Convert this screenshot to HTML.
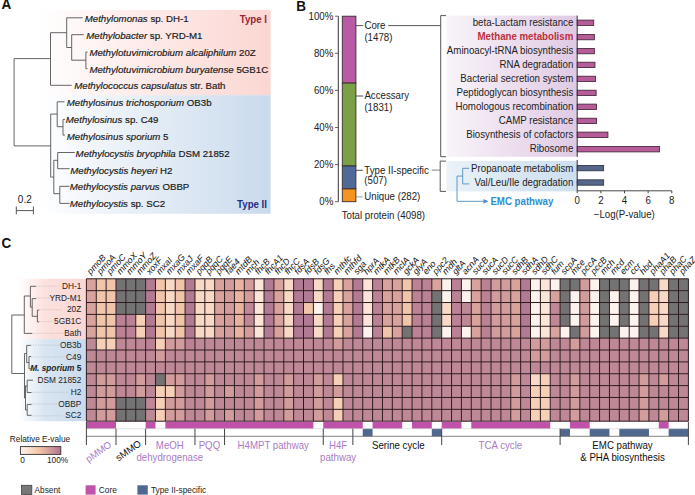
<!DOCTYPE html>
<html><head><meta charset="utf-8"><style>
html,body{margin:0;padding:0;background:#fff;}
svg{display:block;font-family:'Liberation Sans', sans-serif;}
</style></head><body>
<svg width="695" height="495" viewBox="0 0 695 495">
<rect width="695" height="495" fill="#ffffff"/>

<defs>
 <linearGradient id="gPinkA" x1="0" x2="1" y1="0" y2="0">
  <stop offset="0" stop-color="#fbd9d6" stop-opacity="0"/>
  <stop offset="0.42" stop-color="#fbd9d6" stop-opacity="0.5"/>
  <stop offset="1" stop-color="#fbd6d2" stop-opacity="1"/>
 </linearGradient>
 <linearGradient id="gBlueA" x1="0" x2="1" y1="0" y2="0">
  <stop offset="0" stop-color="#cfdeee" stop-opacity="0"/>
  <stop offset="0.42" stop-color="#cfdeee" stop-opacity="0.5"/>
  <stop offset="1" stop-color="#c9daed" stop-opacity="1"/>
 </linearGradient>
 <linearGradient id="gLav" x1="0" x2="1" y1="0" y2="0">
  <stop offset="0" stop-color="#e6d3e8" stop-opacity="0.25"/>
  <stop offset="0.5" stop-color="#e6d3e8" stop-opacity="0.75"/>
  <stop offset="1" stop-color="#dfc9e4" stop-opacity="1"/>
 </linearGradient>
 <linearGradient id="gBlueB" x1="0" x2="1" y1="0" y2="0">
  <stop offset="0" stop-color="#d3e3f0" stop-opacity="0.45"/>
  <stop offset="0.5" stop-color="#d3e3f0" stop-opacity="0.85"/>
  <stop offset="1" stop-color="#cddff0" stop-opacity="1"/>
 </linearGradient>
 <linearGradient id="gPinkC" x1="0" x2="1" y1="0" y2="0">
  <stop offset="0" stop-color="#fbd9d6" stop-opacity="0"/>
  <stop offset="0.4" stop-color="#fbd9d6" stop-opacity="0.8"/>
  <stop offset="1" stop-color="#fbd6d2" stop-opacity="1"/>
 </linearGradient>
 <linearGradient id="gBlueC" x1="0" x2="1" y1="0" y2="0">
  <stop offset="0" stop-color="#cfdeee" stop-opacity="0"/>
  <stop offset="0.4" stop-color="#cfdeee" stop-opacity="0.8"/>
  <stop offset="1" stop-color="#c9daed" stop-opacity="1"/>
 </linearGradient>
 <linearGradient id="gLegend" x1="0" x2="1" y1="0" y2="0">
  <stop offset="0" stop-color="#fdf5f0"/>
  <stop offset="0.45" stop-color="#f3c6a6"/>
  <stop offset="1" stop-color="#b5728f"/>
 </linearGradient>
</defs>

<text transform="translate(1.50,9.46) scale(0.9615,1)" x="0" y="0" font-size="14.04" text-anchor="start" font-weight="bold" font-style="normal" fill="#111" >A</text>
<rect x="40.00" y="10.00" width="230.60" height="85.20" fill="url(#gPinkA)" stroke="none" stroke-width="0" />
<rect x="40.00" y="95.20" width="230.60" height="118.60" fill="url(#gBlueA)" stroke="none" stroke-width="0" />
<line x1="14.10" y1="58.60" x2="14.10" y2="145.90" stroke="#555" stroke-width="0.9" />
<line x1="14.10" y1="58.60" x2="50.50" y2="58.60" stroke="#555" stroke-width="0.9" />
<line x1="50.50" y1="32.70" x2="50.50" y2="85.30" stroke="#555" stroke-width="0.9" />
<line x1="50.50" y1="85.30" x2="71.70" y2="85.30" stroke="#555" stroke-width="0.9" />
<line x1="50.50" y1="32.70" x2="66.70" y2="32.70" stroke="#555" stroke-width="0.9" />
<line x1="66.70" y1="17.80" x2="66.70" y2="47.50" stroke="#555" stroke-width="0.9" />
<line x1="66.70" y1="17.80" x2="82.80" y2="17.80" stroke="#555" stroke-width="0.9" />
<line x1="66.70" y1="47.50" x2="71.70" y2="47.50" stroke="#555" stroke-width="0.9" />
<line x1="71.70" y1="34.70" x2="71.70" y2="60.20" stroke="#555" stroke-width="0.9" />
<line x1="71.70" y1="34.70" x2="83.80" y2="34.70" stroke="#555" stroke-width="0.9" />
<line x1="71.70" y1="60.20" x2="85.90" y2="60.20" stroke="#555" stroke-width="0.9" />
<line x1="85.90" y1="52.10" x2="85.90" y2="68.70" stroke="#555" stroke-width="0.9" />
<line x1="85.90" y1="52.10" x2="87.50" y2="52.10" stroke="#555" stroke-width="0.9" />
<line x1="85.90" y1="68.70" x2="87.50" y2="68.70" stroke="#555" stroke-width="0.9" />
<line x1="14.10" y1="145.90" x2="50.70" y2="145.90" stroke="#555" stroke-width="0.9" />
<line x1="50.70" y1="114.10" x2="50.70" y2="177.10" stroke="#555" stroke-width="0.9" />
<line x1="50.70" y1="114.10" x2="57.20" y2="114.10" stroke="#555" stroke-width="0.9" />
<line x1="57.20" y1="101.80" x2="57.20" y2="126.70" stroke="#555" stroke-width="0.9" />
<line x1="57.20" y1="101.80" x2="64.50" y2="101.80" stroke="#555" stroke-width="0.9" />
<line x1="57.20" y1="126.70" x2="63.00" y2="126.70" stroke="#555" stroke-width="0.9" />
<line x1="63.00" y1="119.40" x2="63.00" y2="135.10" stroke="#555" stroke-width="0.9" />
<line x1="63.00" y1="119.40" x2="65.00" y2="119.40" stroke="#555" stroke-width="0.9" />
<line x1="63.00" y1="135.10" x2="65.00" y2="135.10" stroke="#555" stroke-width="0.9" />
<line x1="50.70" y1="177.10" x2="53.80" y2="177.10" stroke="#555" stroke-width="0.9" />
<line x1="53.80" y1="160.30" x2="53.80" y2="193.70" stroke="#555" stroke-width="0.9" />
<line x1="53.80" y1="160.30" x2="57.70" y2="160.30" stroke="#555" stroke-width="0.9" />
<line x1="57.70" y1="152.50" x2="57.70" y2="168.70" stroke="#555" stroke-width="0.9" />
<line x1="57.70" y1="152.50" x2="74.80" y2="152.50" stroke="#555" stroke-width="0.9" />
<line x1="57.70" y1="168.70" x2="69.60" y2="168.70" stroke="#555" stroke-width="0.9" />
<line x1="53.80" y1="193.70" x2="59.80" y2="193.70" stroke="#555" stroke-width="0.9" />
<line x1="59.80" y1="186.30" x2="59.80" y2="203.40" stroke="#555" stroke-width="0.9" />
<line x1="59.80" y1="186.30" x2="69.60" y2="186.30" stroke="#555" stroke-width="0.9" />
<line x1="59.80" y1="203.40" x2="69.60" y2="203.40" stroke="#555" stroke-width="0.9" />
<text transform="translate(84.70,22.10) scale(1.0000,1)" x="0" y="0" font-size="9.70" text-anchor="start" font-weight="normal" font-style="normal" fill="#1a1a1a" stroke="#1a1a1a" stroke-width="0.18"><tspan font-style="italic">Methylomonas</tspan> sp. DH-1</text>
<text transform="translate(86.30,38.93) scale(1.0000,1)" x="0" y="0" font-size="9.70" text-anchor="start" font-weight="normal" font-style="normal" fill="#1a1a1a" stroke="#1a1a1a" stroke-width="0.18"><tspan font-style="italic">Methylobacter</tspan> sp. YRD-M1</text>
<text transform="translate(89.40,55.76) scale(1.0000,1)" x="0" y="0" font-size="9.70" text-anchor="start" font-weight="normal" font-style="normal" fill="#1a1a1a" stroke="#1a1a1a" stroke-width="0.18"><tspan font-style="italic">Methylotuvimicrobium alcaliphilum</tspan> 20Z</text>
<text transform="translate(89.40,72.59) scale(1.0000,1)" x="0" y="0" font-size="9.70" text-anchor="start" font-weight="normal" font-style="normal" fill="#1a1a1a" stroke="#1a1a1a" stroke-width="0.18"><tspan font-style="italic">Methylotuvimicrobium buryatense</tspan> 5GB1C</text>
<text transform="translate(74.20,89.42) scale(1.0000,1)" x="0" y="0" font-size="9.70" text-anchor="start" font-weight="normal" font-style="normal" fill="#1a1a1a" stroke="#1a1a1a" stroke-width="0.18"><tspan font-style="italic">Methylococcus capsulatus</tspan> str. Bath</text>
<text transform="translate(66.70,106.25) scale(1.0000,1)" x="0" y="0" font-size="9.70" text-anchor="start" font-weight="normal" font-style="normal" fill="#1a1a1a" stroke="#1a1a1a" stroke-width="0.18"><tspan font-style="italic">Methylosinus trichosporium</tspan> OB3b</text>
<text transform="translate(65.80,123.08) scale(1.0000,1)" x="0" y="0" font-size="9.70" text-anchor="start" font-weight="normal" font-style="normal" fill="#1a1a1a" stroke="#1a1a1a" stroke-width="0.18"><tspan font-style="italic">Methylosinus</tspan> sp. C49</text>
<text transform="translate(66.70,139.91) scale(1.0000,1)" x="0" y="0" font-size="9.70" text-anchor="start" font-weight="normal" font-style="normal" fill="#1a1a1a" stroke="#1a1a1a" stroke-width="0.18"><tspan font-style="italic">Methylosinus sporium</tspan> 5</text>
<text transform="translate(75.60,156.74) scale(1.0000,1)" x="0" y="0" font-size="9.70" text-anchor="start" font-weight="normal" font-style="normal" fill="#1a1a1a" stroke="#1a1a1a" stroke-width="0.18"><tspan font-style="italic">Methylocystis bryophila</tspan> DSM 21852</text>
<text transform="translate(70.20,173.57) scale(1.0000,1)" x="0" y="0" font-size="9.70" text-anchor="start" font-weight="normal" font-style="normal" fill="#1a1a1a" stroke="#1a1a1a" stroke-width="0.18"><tspan font-style="italic">Methylocystis heyeri</tspan> H2</text>
<text transform="translate(69.80,190.40) scale(1.0000,1)" x="0" y="0" font-size="9.70" text-anchor="start" font-weight="normal" font-style="normal" fill="#1a1a1a" stroke="#1a1a1a" stroke-width="0.18"><tspan font-style="italic">Methylocystis parvus</tspan> OBBP</text>
<text transform="translate(69.80,207.23) scale(1.0000,1)" x="0" y="0" font-size="9.70" text-anchor="start" font-weight="normal" font-style="normal" fill="#1a1a1a" stroke="#1a1a1a" stroke-width="0.18"><tspan font-style="italic">Methylocystis</tspan> sp. SC2</text>
<text transform="translate(267.00,22.59) scale(0.9615,1)" x="0" y="0" font-size="10.09" text-anchor="end" font-weight="bold" font-style="normal" fill="#9b2333" >Type I</text>
<text transform="translate(267.00,207.59) scale(0.9615,1)" x="0" y="0" font-size="10.09" text-anchor="end" font-weight="bold" font-style="normal" fill="#1f2f86" >Type II</text>
<text transform="translate(24.80,203.00) scale(0.9615,1)" x="0" y="0" font-size="10.40" text-anchor="middle" font-weight="normal" font-style="normal" fill="#222" >0.2</text>
<line x1="16.30" y1="210.60" x2="33.40" y2="210.60" stroke="#444" stroke-width="0.9" />
<line x1="16.30" y1="206.50" x2="16.30" y2="214.30" stroke="#444" stroke-width="0.9" />
<line x1="33.40" y1="206.50" x2="33.40" y2="214.30" stroke="#444" stroke-width="0.9" />
<text transform="translate(296.30,10.96) scale(0.9615,1)" x="0" y="0" font-size="14.04" text-anchor="start" font-weight="bold" font-style="normal" fill="#111" >B</text>
<line x1="338.30" y1="16.20" x2="338.30" y2="201.70" stroke="#333" stroke-width="1" />
<line x1="335.00" y1="201.70" x2="338.30" y2="201.70" stroke="#555" stroke-width="0.9" />
<text transform="translate(333.30,205.09) scale(0.9615,1)" x="0" y="0" font-size="10.09" text-anchor="end" font-weight="normal" font-style="normal" fill="#222" >0%</text>
<line x1="335.00" y1="164.60" x2="338.30" y2="164.60" stroke="#555" stroke-width="0.9" />
<text transform="translate(333.30,167.99) scale(0.9615,1)" x="0" y="0" font-size="10.09" text-anchor="end" font-weight="normal" font-style="normal" fill="#222" >20%</text>
<line x1="335.00" y1="127.50" x2="338.30" y2="127.50" stroke="#555" stroke-width="0.9" />
<text transform="translate(333.30,130.89) scale(0.9615,1)" x="0" y="0" font-size="10.09" text-anchor="end" font-weight="normal" font-style="normal" fill="#222" >40%</text>
<line x1="335.00" y1="90.40" x2="338.30" y2="90.40" stroke="#555" stroke-width="0.9" />
<text transform="translate(333.30,93.79) scale(0.9615,1)" x="0" y="0" font-size="10.09" text-anchor="end" font-weight="normal" font-style="normal" fill="#222" >60%</text>
<line x1="335.00" y1="53.30" x2="338.30" y2="53.30" stroke="#555" stroke-width="0.9" />
<text transform="translate(333.30,56.69) scale(0.9615,1)" x="0" y="0" font-size="10.09" text-anchor="end" font-weight="normal" font-style="normal" fill="#222" >80%</text>
<line x1="335.00" y1="16.20" x2="338.30" y2="16.20" stroke="#555" stroke-width="0.9" />
<text transform="translate(333.30,19.59) scale(0.9615,1)" x="0" y="0" font-size="10.09" text-anchor="end" font-weight="normal" font-style="normal" fill="#222" >100%</text>
<rect x="342.30" y="16.20" width="13.60" height="66.91" fill="#b95aa5" stroke="#3a2a2a" stroke-width="0.9" />
<rect x="342.30" y="83.11" width="13.60" height="82.88" fill="#7ba045" stroke="#3a2a2a" stroke-width="0.9" />
<rect x="342.30" y="165.99" width="13.60" height="22.95" fill="#4f6a98" stroke="#3a2a2a" stroke-width="0.9" />
<rect x="342.30" y="188.94" width="13.60" height="12.76" fill="#f39520" stroke="#3a2a2a" stroke-width="0.9" />
<line x1="355.90" y1="25.60" x2="363.30" y2="25.60" stroke="#444" stroke-width="0.9" />
<text transform="translate(364.40,28.89) scale(0.9615,1)" x="0" y="0" font-size="10.09" text-anchor="start" font-weight="normal" font-style="normal" fill="#222" >Core</text>
<text transform="translate(364.40,41.09) scale(0.9615,1)" x="0" y="0" font-size="10.09" text-anchor="start" font-weight="normal" font-style="normal" fill="#222" >(1478)</text>
<line x1="388.20" y1="25.60" x2="440.70" y2="25.60" stroke="#444" stroke-width="0.9" />
<line x1="355.90" y1="96.00" x2="363.30" y2="96.00" stroke="#444" stroke-width="0.9" />
<text transform="translate(364.40,99.29) scale(0.9615,1)" x="0" y="0" font-size="10.09" text-anchor="start" font-weight="normal" font-style="normal" fill="#222" >Accessary</text>
<text transform="translate(364.40,111.49) scale(0.9615,1)" x="0" y="0" font-size="10.09" text-anchor="start" font-weight="normal" font-style="normal" fill="#222" >(1831)</text>
<line x1="355.90" y1="170.30" x2="362.90" y2="170.30" stroke="#444" stroke-width="0.9" />
<text transform="translate(364.30,173.59) scale(0.9615,1)" x="0" y="0" font-size="10.09" text-anchor="start" font-weight="normal" font-style="normal" fill="#222" >Type II-specific</text>
<text transform="translate(364.30,184.09) scale(0.9615,1)" x="0" y="0" font-size="10.09" text-anchor="start" font-weight="normal" font-style="normal" fill="#222" >(507)</text>
<line x1="431.60" y1="170.10" x2="440.20" y2="170.10" stroke="#777" stroke-width="0.9" />
<line x1="355.90" y1="196.90" x2="362.90" y2="196.90" stroke="#8899aa" stroke-width="0.9" />
<text transform="translate(364.30,200.09) scale(0.9615,1)" x="0" y="0" font-size="10.09" text-anchor="start" font-weight="normal" font-style="normal" fill="#222" >Unique (282)</text>
<text transform="translate(383.40,218.89) scale(0.9615,1)" x="0" y="0" font-size="10.09" text-anchor="middle" font-weight="normal" font-style="normal" fill="#222" >Total protein (4098)</text>
<path d="M446,15.6 H440.7 V156.7 H446" stroke="#444" stroke-width="0.9" fill="none" />
<path d="M446,161.1 H440.2 V191.4 H446" stroke="#444" stroke-width="0.9" fill="none" />
<rect x="446.50" y="15.60" width="130.70" height="141.20" fill="url(#gLav)" stroke="none" stroke-width="0" />
<rect x="446.50" y="161.00" width="130.70" height="30.40" fill="url(#gBlueB)" stroke="none" stroke-width="0" />
<text transform="translate(573.30,25.89) scale(0.9615,1)" x="0" y="0" font-size="10.09" text-anchor="end" font-weight="normal" font-style="normal" fill="#222" >beta-Lactam resistance</text>
<rect x="577.20" y="20.10" width="16.55" height="5.40" fill="#b65c98" stroke="#3a2030" stroke-width="0.8" />
<text transform="translate(573.30,40.19) scale(0.9615,1)" x="0" y="0" font-size="10.09" text-anchor="end" font-weight="bold" font-style="normal" fill="#bb3040" >Methane metabolism</text>
<rect x="577.20" y="34.40" width="17.15" height="5.40" fill="#b65c98" stroke="#3a2030" stroke-width="0.8" />
<text transform="translate(573.30,54.19) scale(0.9615,1)" x="0" y="0" font-size="10.09" text-anchor="end" font-weight="normal" font-style="normal" fill="#222" >Aminoacyl-tRNA biosynthesis</text>
<rect x="577.20" y="48.40" width="17.15" height="5.40" fill="#b65c98" stroke="#3a2030" stroke-width="0.8" />
<text transform="translate(573.30,67.99) scale(0.9615,1)" x="0" y="0" font-size="10.09" text-anchor="end" font-weight="normal" font-style="normal" fill="#222" >RNA degradation</text>
<rect x="577.20" y="62.20" width="17.74" height="5.40" fill="#b65c98" stroke="#3a2030" stroke-width="0.8" />
<text transform="translate(573.30,81.99) scale(0.9615,1)" x="0" y="0" font-size="10.09" text-anchor="end" font-weight="normal" font-style="normal" fill="#222" >Bacterial secretion system</text>
<rect x="577.20" y="76.20" width="18.33" height="5.40" fill="#b65c98" stroke="#3a2030" stroke-width="0.8" />
<text transform="translate(573.30,95.99) scale(0.9615,1)" x="0" y="0" font-size="10.09" text-anchor="end" font-weight="normal" font-style="normal" fill="#222" >Peptidoglycan biosynthesis</text>
<rect x="577.20" y="90.20" width="18.92" height="5.40" fill="#b65c98" stroke="#3a2030" stroke-width="0.8" />
<text transform="translate(573.30,109.89) scale(0.9615,1)" x="0" y="0" font-size="10.09" text-anchor="end" font-weight="normal" font-style="normal" fill="#222" >Homologous recombination</text>
<rect x="577.20" y="104.10" width="19.39" height="5.40" fill="#b65c98" stroke="#3a2030" stroke-width="0.8" />
<text transform="translate(573.30,123.99) scale(0.9615,1)" x="0" y="0" font-size="10.09" text-anchor="end" font-weight="normal" font-style="normal" fill="#222" >CAMP resistance</text>
<rect x="577.20" y="118.20" width="19.39" height="5.40" fill="#b65c98" stroke="#3a2030" stroke-width="0.8" />
<text transform="translate(573.30,137.89) scale(0.9615,1)" x="0" y="0" font-size="10.09" text-anchor="end" font-weight="normal" font-style="normal" fill="#222" >Biosynthesis of cofactors</text>
<rect x="577.20" y="132.10" width="30.74" height="5.40" fill="#b65c98" stroke="#3a2030" stroke-width="0.8" />
<text transform="translate(573.30,152.29) scale(0.9615,1)" x="0" y="0" font-size="10.09" text-anchor="end" font-weight="normal" font-style="normal" fill="#222" >Ribosome</text>
<rect x="577.20" y="146.50" width="82.30" height="5.40" fill="#b65c98" stroke="#3a2030" stroke-width="0.8" />
<text transform="translate(573.30,171.99) scale(0.9615,1)" x="0" y="0" font-size="10.09" text-anchor="end" font-weight="normal" font-style="normal" fill="#222" >Propanoate metabolism</text>
<rect x="577.20" y="165.40" width="26.49" height="5.40" fill="#55668a" stroke="#2a3040" stroke-width="0.8" />
<text transform="translate(573.30,186.39) scale(0.9615,1)" x="0" y="0" font-size="10.09" text-anchor="end" font-weight="normal" font-style="normal" fill="#222" >Val/Leu/Ile degradation</text>
<rect x="577.20" y="179.80" width="26.49" height="5.40" fill="#55668a" stroke="#2a3040" stroke-width="0.8" />
<line x1="577.20" y1="15.60" x2="577.20" y2="156.80" stroke="#333" stroke-width="1" />
<line x1="577.20" y1="160.00" x2="577.20" y2="190.80" stroke="#333" stroke-width="1" />
<line x1="577.20" y1="190.80" x2="671.80" y2="190.80" stroke="#333" stroke-width="0.9" />
<line x1="577.20" y1="190.80" x2="577.20" y2="193.30" stroke="#333" stroke-width="0.9" />
<text transform="translate(577.20,204.09) scale(0.9615,1)" x="0" y="0" font-size="10.09" text-anchor="middle" font-weight="normal" font-style="normal" fill="#222" >0</text>
<line x1="600.85" y1="190.80" x2="600.85" y2="193.30" stroke="#333" stroke-width="0.9" />
<text transform="translate(600.85,204.09) scale(0.9615,1)" x="0" y="0" font-size="10.09" text-anchor="middle" font-weight="normal" font-style="normal" fill="#222" >2</text>
<line x1="624.50" y1="190.80" x2="624.50" y2="193.30" stroke="#333" stroke-width="0.9" />
<text transform="translate(624.50,204.09) scale(0.9615,1)" x="0" y="0" font-size="10.09" text-anchor="middle" font-weight="normal" font-style="normal" fill="#222" >4</text>
<line x1="648.15" y1="190.80" x2="648.15" y2="193.30" stroke="#333" stroke-width="0.9" />
<text transform="translate(648.15,204.09) scale(0.9615,1)" x="0" y="0" font-size="10.09" text-anchor="middle" font-weight="normal" font-style="normal" fill="#222" >6</text>
<line x1="671.80" y1="190.80" x2="671.80" y2="193.30" stroke="#333" stroke-width="0.9" />
<text transform="translate(671.80,204.09) scale(0.9615,1)" x="0" y="0" font-size="10.09" text-anchor="middle" font-weight="normal" font-style="normal" fill="#222" >8</text>
<text transform="translate(624.30,218.49) scale(0.9615,1)" x="0" y="0" font-size="10.09" text-anchor="middle" font-weight="normal" font-style="normal" fill="#222" >&#8722;Log(P-value)</text>
<line x1="462.70" y1="168.30" x2="462.70" y2="183.90" stroke="#4f8fc0" stroke-width="0.9" />
<line x1="462.70" y1="168.30" x2="469.20" y2="168.30" stroke="#4f8fc0" stroke-width="0.9" />
<line x1="462.70" y1="183.90" x2="469.20" y2="183.90" stroke="#4f8fc0" stroke-width="0.9" />
<line x1="457.00" y1="176.10" x2="462.70" y2="176.10" stroke="#4f8fc0" stroke-width="0.9" />
<line x1="457.00" y1="176.10" x2="457.00" y2="201.30" stroke="#4f8fc0" stroke-width="0.9" />
<line x1="457.00" y1="201.30" x2="485.00" y2="201.30" stroke="#4f8fc0" stroke-width="0.9" />
<path d="M488.5,201.3 L483.5,198.9 L483.5,203.7 Z" stroke="none" stroke-width="1.0" fill="#4f8fc0" />
<text transform="translate(490.40,205.29) scale(0.9615,1)" x="0" y="0" font-size="10.09" text-anchor="start" font-weight="bold" font-style="normal" fill="#2f8fcf" >EMC pathway</text>
<text transform="translate(1.50,247.66) scale(0.9615,1)" x="0" y="0" font-size="14.04" text-anchor="start" font-weight="bold" font-style="normal" fill="#111" >C</text>
<rect x="18.00" y="278.80" width="68.40" height="60.30" fill="url(#gPinkC)" stroke="none" stroke-width="0" />
<rect x="18.00" y="339.10" width="68.40" height="82.10" fill="url(#gBlueC)" stroke="none" stroke-width="0" />
<rect x="86.40" y="278.80" width="9.87" height="11.87" fill="#d9a39d" stroke="none" stroke-width="0" />
<rect x="96.27" y="278.80" width="9.87" height="11.87" fill="#f0c5aa" stroke="none" stroke-width="0" />
<rect x="106.14" y="278.80" width="9.87" height="11.87" fill="#f0c5aa" stroke="none" stroke-width="0" />
<rect x="116.01" y="278.80" width="9.87" height="11.87" fill="#737373" stroke="none" stroke-width="0" />
<rect x="125.88" y="278.80" width="9.87" height="11.87" fill="#737373" stroke="none" stroke-width="0" />
<rect x="135.74" y="278.80" width="9.87" height="11.87" fill="#737373" stroke="none" stroke-width="0" />
<rect x="145.61" y="278.80" width="9.87" height="11.87" fill="#b27b94" stroke="none" stroke-width="0" />
<rect x="155.48" y="278.80" width="9.87" height="11.87" fill="#f0c5aa" stroke="none" stroke-width="0" />
<rect x="165.35" y="278.80" width="9.87" height="11.87" fill="#f7d9c6" stroke="none" stroke-width="0" />
<rect x="175.22" y="278.80" width="9.87" height="11.87" fill="#f0c5aa" stroke="none" stroke-width="0" />
<rect x="185.09" y="278.80" width="9.87" height="11.87" fill="#b27b94" stroke="none" stroke-width="0" />
<rect x="194.96" y="278.80" width="9.87" height="11.87" fill="#f7d9c6" stroke="none" stroke-width="0" />
<rect x="204.83" y="278.80" width="9.87" height="11.87" fill="#f7d9c6" stroke="none" stroke-width="0" />
<rect x="214.70" y="278.80" width="9.87" height="11.87" fill="#d9a39d" stroke="none" stroke-width="0" />
<rect x="224.56" y="278.80" width="9.87" height="11.87" fill="#d29c9c" stroke="none" stroke-width="0" />
<rect x="234.43" y="278.80" width="9.87" height="11.87" fill="#e8b49e" stroke="none" stroke-width="0" />
<rect x="244.30" y="278.80" width="9.87" height="11.87" fill="#d29c9c" stroke="none" stroke-width="0" />
<rect x="254.17" y="278.80" width="9.87" height="11.87" fill="#fbe5d8" stroke="none" stroke-width="0" />
<rect x="264.04" y="278.80" width="9.87" height="11.87" fill="#b27b94" stroke="none" stroke-width="0" />
<rect x="273.91" y="278.80" width="9.87" height="11.87" fill="#d9a39d" stroke="none" stroke-width="0" />
<rect x="283.78" y="278.80" width="9.87" height="11.87" fill="#f7d9c6" stroke="none" stroke-width="0" />
<rect x="293.65" y="278.80" width="9.87" height="11.87" fill="#b27b94" stroke="none" stroke-width="0" />
<rect x="303.51" y="278.80" width="9.87" height="11.87" fill="#b27b94" stroke="none" stroke-width="0" />
<rect x="313.38" y="278.80" width="9.87" height="11.87" fill="#f7d9c6" stroke="none" stroke-width="0" />
<rect x="323.25" y="278.80" width="9.87" height="11.87" fill="#b27b94" stroke="none" stroke-width="0" />
<rect x="333.12" y="278.80" width="9.87" height="11.87" fill="#f5d0b6" stroke="none" stroke-width="0" />
<rect x="342.99" y="278.80" width="9.87" height="11.87" fill="#d9a39d" stroke="none" stroke-width="0" />
<rect x="352.86" y="278.80" width="9.87" height="11.87" fill="#b27b94" stroke="none" stroke-width="0" />
<rect x="362.73" y="278.80" width="9.87" height="11.87" fill="#fbe5d8" stroke="none" stroke-width="0" />
<rect x="372.60" y="278.80" width="9.87" height="11.87" fill="#bb8296" stroke="none" stroke-width="0" />
<rect x="382.47" y="278.80" width="9.87" height="11.87" fill="#d9a39d" stroke="none" stroke-width="0" />
<rect x="392.33" y="278.80" width="9.87" height="11.87" fill="#d9a39d" stroke="none" stroke-width="0" />
<rect x="402.20" y="278.80" width="9.87" height="11.87" fill="#f0c5aa" stroke="none" stroke-width="0" />
<rect x="412.07" y="278.80" width="9.87" height="11.87" fill="#bb8296" stroke="none" stroke-width="0" />
<rect x="421.94" y="278.80" width="9.87" height="11.87" fill="#bb8296" stroke="none" stroke-width="0" />
<rect x="431.81" y="278.80" width="9.87" height="11.87" fill="#d9a39d" stroke="none" stroke-width="0" />
<rect x="441.68" y="278.80" width="9.87" height="11.87" fill="#fdf3ee" stroke="none" stroke-width="0" />
<rect x="451.55" y="278.80" width="9.87" height="11.87" fill="#bb8296" stroke="none" stroke-width="0" />
<rect x="461.42" y="278.80" width="9.87" height="11.87" fill="#fdf3ee" stroke="none" stroke-width="0" />
<rect x="471.29" y="278.80" width="9.87" height="11.87" fill="#d9a39d" stroke="none" stroke-width="0" />
<rect x="481.15" y="278.80" width="9.87" height="11.87" fill="#bb8296" stroke="none" stroke-width="0" />
<rect x="491.02" y="278.80" width="9.87" height="11.87" fill="#d29c9c" stroke="none" stroke-width="0" />
<rect x="500.89" y="278.80" width="9.87" height="11.87" fill="#d29c9c" stroke="none" stroke-width="0" />
<rect x="510.76" y="278.80" width="9.87" height="11.87" fill="#d9a39d" stroke="none" stroke-width="0" />
<rect x="520.63" y="278.80" width="9.87" height="11.87" fill="#b27b94" stroke="none" stroke-width="0" />
<rect x="530.50" y="278.80" width="9.87" height="11.87" fill="#fdf3ee" stroke="none" stroke-width="0" />
<rect x="540.37" y="278.80" width="9.87" height="11.87" fill="#fbe5d8" stroke="none" stroke-width="0" />
<rect x="550.24" y="278.80" width="9.87" height="11.87" fill="#fdf3ee" stroke="none" stroke-width="0" />
<rect x="560.10" y="278.80" width="9.87" height="11.87" fill="#737373" stroke="none" stroke-width="0" />
<rect x="569.97" y="278.80" width="9.87" height="11.87" fill="#737373" stroke="none" stroke-width="0" />
<rect x="579.84" y="278.80" width="9.87" height="11.87" fill="#d29c9c" stroke="none" stroke-width="0" />
<rect x="589.71" y="278.80" width="9.87" height="11.87" fill="#fdf3ee" stroke="none" stroke-width="0" />
<rect x="599.58" y="278.80" width="9.87" height="11.87" fill="#737373" stroke="none" stroke-width="0" />
<rect x="609.45" y="278.80" width="9.87" height="11.87" fill="#737373" stroke="none" stroke-width="0" />
<rect x="619.32" y="278.80" width="9.87" height="11.87" fill="#737373" stroke="none" stroke-width="0" />
<rect x="629.19" y="278.80" width="9.87" height="11.87" fill="#fdf3ee" stroke="none" stroke-width="0" />
<rect x="639.06" y="278.80" width="9.87" height="11.87" fill="#737373" stroke="none" stroke-width="0" />
<rect x="648.92" y="278.80" width="9.87" height="11.87" fill="#737373" stroke="none" stroke-width="0" />
<rect x="658.79" y="278.80" width="9.87" height="11.87" fill="#f7d9c6" stroke="none" stroke-width="0" />
<rect x="668.66" y="278.80" width="9.87" height="11.87" fill="#737373" stroke="none" stroke-width="0" />
<rect x="678.53" y="278.80" width="9.87" height="11.87" fill="#737373" stroke="none" stroke-width="0" />
<rect x="86.40" y="290.67" width="9.87" height="11.87" fill="#d9a39d" stroke="none" stroke-width="0" />
<rect x="96.27" y="290.67" width="9.87" height="11.87" fill="#f0c5aa" stroke="none" stroke-width="0" />
<rect x="106.14" y="290.67" width="9.87" height="11.87" fill="#f0c5aa" stroke="none" stroke-width="0" />
<rect x="116.01" y="290.67" width="9.87" height="11.87" fill="#737373" stroke="none" stroke-width="0" />
<rect x="125.88" y="290.67" width="9.87" height="11.87" fill="#737373" stroke="none" stroke-width="0" />
<rect x="135.74" y="290.67" width="9.87" height="11.87" fill="#737373" stroke="none" stroke-width="0" />
<rect x="145.61" y="290.67" width="9.87" height="11.87" fill="#b27b94" stroke="none" stroke-width="0" />
<rect x="155.48" y="290.67" width="9.87" height="11.87" fill="#f0c5aa" stroke="none" stroke-width="0" />
<rect x="165.35" y="290.67" width="9.87" height="11.87" fill="#f7d9c6" stroke="none" stroke-width="0" />
<rect x="175.22" y="290.67" width="9.87" height="11.87" fill="#f0c5aa" stroke="none" stroke-width="0" />
<rect x="185.09" y="290.67" width="9.87" height="11.87" fill="#b27b94" stroke="none" stroke-width="0" />
<rect x="194.96" y="290.67" width="9.87" height="11.87" fill="#f7d9c6" stroke="none" stroke-width="0" />
<rect x="204.83" y="290.67" width="9.87" height="11.87" fill="#f7d9c6" stroke="none" stroke-width="0" />
<rect x="214.70" y="290.67" width="9.87" height="11.87" fill="#d9a39d" stroke="none" stroke-width="0" />
<rect x="224.56" y="290.67" width="9.87" height="11.87" fill="#d29c9c" stroke="none" stroke-width="0" />
<rect x="234.43" y="290.67" width="9.87" height="11.87" fill="#e8b49e" stroke="none" stroke-width="0" />
<rect x="244.30" y="290.67" width="9.87" height="11.87" fill="#d29c9c" stroke="none" stroke-width="0" />
<rect x="254.17" y="290.67" width="9.87" height="11.87" fill="#fbe5d8" stroke="none" stroke-width="0" />
<rect x="264.04" y="290.67" width="9.87" height="11.87" fill="#b27b94" stroke="none" stroke-width="0" />
<rect x="273.91" y="290.67" width="9.87" height="11.87" fill="#d9a39d" stroke="none" stroke-width="0" />
<rect x="283.78" y="290.67" width="9.87" height="11.87" fill="#f7d9c6" stroke="none" stroke-width="0" />
<rect x="293.65" y="290.67" width="9.87" height="11.87" fill="#b27b94" stroke="none" stroke-width="0" />
<rect x="303.51" y="290.67" width="9.87" height="11.87" fill="#b27b94" stroke="none" stroke-width="0" />
<rect x="313.38" y="290.67" width="9.87" height="11.87" fill="#f7d9c6" stroke="none" stroke-width="0" />
<rect x="323.25" y="290.67" width="9.87" height="11.87" fill="#b27b94" stroke="none" stroke-width="0" />
<rect x="333.12" y="290.67" width="9.87" height="11.87" fill="#f5d0b6" stroke="none" stroke-width="0" />
<rect x="342.99" y="290.67" width="9.87" height="11.87" fill="#d9a39d" stroke="none" stroke-width="0" />
<rect x="352.86" y="290.67" width="9.87" height="11.87" fill="#b27b94" stroke="none" stroke-width="0" />
<rect x="362.73" y="290.67" width="9.87" height="11.87" fill="#fbe5d8" stroke="none" stroke-width="0" />
<rect x="372.60" y="290.67" width="9.87" height="11.87" fill="#bb8296" stroke="none" stroke-width="0" />
<rect x="382.47" y="290.67" width="9.87" height="11.87" fill="#d9a39d" stroke="none" stroke-width="0" />
<rect x="392.33" y="290.67" width="9.87" height="11.87" fill="#d9a39d" stroke="none" stroke-width="0" />
<rect x="402.20" y="290.67" width="9.87" height="11.87" fill="#f0c5aa" stroke="none" stroke-width="0" />
<rect x="412.07" y="290.67" width="9.87" height="11.87" fill="#bb8296" stroke="none" stroke-width="0" />
<rect x="421.94" y="290.67" width="9.87" height="11.87" fill="#bb8296" stroke="none" stroke-width="0" />
<rect x="431.81" y="290.67" width="9.87" height="11.87" fill="#737373" stroke="none" stroke-width="0" />
<rect x="441.68" y="290.67" width="9.87" height="11.87" fill="#fdf3ee" stroke="none" stroke-width="0" />
<rect x="451.55" y="290.67" width="9.87" height="11.87" fill="#bb8296" stroke="none" stroke-width="0" />
<rect x="461.42" y="290.67" width="9.87" height="11.87" fill="#fdf3ee" stroke="none" stroke-width="0" />
<rect x="471.29" y="290.67" width="9.87" height="11.87" fill="#d9a39d" stroke="none" stroke-width="0" />
<rect x="481.15" y="290.67" width="9.87" height="11.87" fill="#bb8296" stroke="none" stroke-width="0" />
<rect x="491.02" y="290.67" width="9.87" height="11.87" fill="#d29c9c" stroke="none" stroke-width="0" />
<rect x="500.89" y="290.67" width="9.87" height="11.87" fill="#d29c9c" stroke="none" stroke-width="0" />
<rect x="510.76" y="290.67" width="9.87" height="11.87" fill="#d9a39d" stroke="none" stroke-width="0" />
<rect x="520.63" y="290.67" width="9.87" height="11.87" fill="#b27b94" stroke="none" stroke-width="0" />
<rect x="530.50" y="290.67" width="9.87" height="11.87" fill="#fdf3ee" stroke="none" stroke-width="0" />
<rect x="540.37" y="290.67" width="9.87" height="11.87" fill="#fbe5d8" stroke="none" stroke-width="0" />
<rect x="550.24" y="290.67" width="9.87" height="11.87" fill="#d9a39d" stroke="none" stroke-width="0" />
<rect x="560.10" y="290.67" width="9.87" height="11.87" fill="#737373" stroke="none" stroke-width="0" />
<rect x="569.97" y="290.67" width="9.87" height="11.87" fill="#fdf3ee" stroke="none" stroke-width="0" />
<rect x="579.84" y="290.67" width="9.87" height="11.87" fill="#d29c9c" stroke="none" stroke-width="0" />
<rect x="589.71" y="290.67" width="9.87" height="11.87" fill="#fdf3ee" stroke="none" stroke-width="0" />
<rect x="599.58" y="290.67" width="9.87" height="11.87" fill="#737373" stroke="none" stroke-width="0" />
<rect x="609.45" y="290.67" width="9.87" height="11.87" fill="#fdf3ee" stroke="none" stroke-width="0" />
<rect x="619.32" y="290.67" width="9.87" height="11.87" fill="#737373" stroke="none" stroke-width="0" />
<rect x="629.19" y="290.67" width="9.87" height="11.87" fill="#fdf3ee" stroke="none" stroke-width="0" />
<rect x="639.06" y="290.67" width="9.87" height="11.87" fill="#737373" stroke="none" stroke-width="0" />
<rect x="648.92" y="290.67" width="9.87" height="11.87" fill="#f5d0b6" stroke="none" stroke-width="0" />
<rect x="658.79" y="290.67" width="9.87" height="11.87" fill="#f7d9c6" stroke="none" stroke-width="0" />
<rect x="668.66" y="290.67" width="9.87" height="11.87" fill="#737373" stroke="none" stroke-width="0" />
<rect x="678.53" y="290.67" width="9.87" height="11.87" fill="#737373" stroke="none" stroke-width="0" />
<rect x="86.40" y="302.53" width="9.87" height="11.87" fill="#d9a39d" stroke="none" stroke-width="0" />
<rect x="96.27" y="302.53" width="9.87" height="11.87" fill="#f0c5aa" stroke="none" stroke-width="0" />
<rect x="106.14" y="302.53" width="9.87" height="11.87" fill="#f0c5aa" stroke="none" stroke-width="0" />
<rect x="116.01" y="302.53" width="9.87" height="11.87" fill="#737373" stroke="none" stroke-width="0" />
<rect x="125.88" y="302.53" width="9.87" height="11.87" fill="#737373" stroke="none" stroke-width="0" />
<rect x="135.74" y="302.53" width="9.87" height="11.87" fill="#737373" stroke="none" stroke-width="0" />
<rect x="145.61" y="302.53" width="9.87" height="11.87" fill="#b27b94" stroke="none" stroke-width="0" />
<rect x="155.48" y="302.53" width="9.87" height="11.87" fill="#f0c5aa" stroke="none" stroke-width="0" />
<rect x="165.35" y="302.53" width="9.87" height="11.87" fill="#f7d9c6" stroke="none" stroke-width="0" />
<rect x="175.22" y="302.53" width="9.87" height="11.87" fill="#f0c5aa" stroke="none" stroke-width="0" />
<rect x="185.09" y="302.53" width="9.87" height="11.87" fill="#b27b94" stroke="none" stroke-width="0" />
<rect x="194.96" y="302.53" width="9.87" height="11.87" fill="#f7d9c6" stroke="none" stroke-width="0" />
<rect x="204.83" y="302.53" width="9.87" height="11.87" fill="#f7d9c6" stroke="none" stroke-width="0" />
<rect x="214.70" y="302.53" width="9.87" height="11.87" fill="#d9a39d" stroke="none" stroke-width="0" />
<rect x="224.56" y="302.53" width="9.87" height="11.87" fill="#d29c9c" stroke="none" stroke-width="0" />
<rect x="234.43" y="302.53" width="9.87" height="11.87" fill="#e8b49e" stroke="none" stroke-width="0" />
<rect x="244.30" y="302.53" width="9.87" height="11.87" fill="#be8897" stroke="none" stroke-width="0" />
<rect x="254.17" y="302.53" width="9.87" height="11.87" fill="#fbe5d8" stroke="none" stroke-width="0" />
<rect x="264.04" y="302.53" width="9.87" height="11.87" fill="#b27b94" stroke="none" stroke-width="0" />
<rect x="273.91" y="302.53" width="9.87" height="11.87" fill="#d9a39d" stroke="none" stroke-width="0" />
<rect x="283.78" y="302.53" width="9.87" height="11.87" fill="#f7d9c6" stroke="none" stroke-width="0" />
<rect x="293.65" y="302.53" width="9.87" height="11.87" fill="#b27b94" stroke="none" stroke-width="0" />
<rect x="303.51" y="302.53" width="9.87" height="11.87" fill="#f0c5aa" stroke="none" stroke-width="0" />
<rect x="313.38" y="302.53" width="9.87" height="11.87" fill="#fdf3ee" stroke="none" stroke-width="0" />
<rect x="323.25" y="302.53" width="9.87" height="11.87" fill="#b27b94" stroke="none" stroke-width="0" />
<rect x="333.12" y="302.53" width="9.87" height="11.87" fill="#f5d0b6" stroke="none" stroke-width="0" />
<rect x="342.99" y="302.53" width="9.87" height="11.87" fill="#d9a39d" stroke="none" stroke-width="0" />
<rect x="352.86" y="302.53" width="9.87" height="11.87" fill="#b27b94" stroke="none" stroke-width="0" />
<rect x="362.73" y="302.53" width="9.87" height="11.87" fill="#fbe5d8" stroke="none" stroke-width="0" />
<rect x="372.60" y="302.53" width="9.87" height="11.87" fill="#bb8296" stroke="none" stroke-width="0" />
<rect x="382.47" y="302.53" width="9.87" height="11.87" fill="#d9a39d" stroke="none" stroke-width="0" />
<rect x="392.33" y="302.53" width="9.87" height="11.87" fill="#d9a39d" stroke="none" stroke-width="0" />
<rect x="402.20" y="302.53" width="9.87" height="11.87" fill="#f0c5aa" stroke="none" stroke-width="0" />
<rect x="412.07" y="302.53" width="9.87" height="11.87" fill="#bb8296" stroke="none" stroke-width="0" />
<rect x="421.94" y="302.53" width="9.87" height="11.87" fill="#bb8296" stroke="none" stroke-width="0" />
<rect x="431.81" y="302.53" width="9.87" height="11.87" fill="#737373" stroke="none" stroke-width="0" />
<rect x="441.68" y="302.53" width="9.87" height="11.87" fill="#f7d9c6" stroke="none" stroke-width="0" />
<rect x="451.55" y="302.53" width="9.87" height="11.87" fill="#bb8296" stroke="none" stroke-width="0" />
<rect x="461.42" y="302.53" width="9.87" height="11.87" fill="#be8897" stroke="none" stroke-width="0" />
<rect x="471.29" y="302.53" width="9.87" height="11.87" fill="#d9a39d" stroke="none" stroke-width="0" />
<rect x="481.15" y="302.53" width="9.87" height="11.87" fill="#bb8296" stroke="none" stroke-width="0" />
<rect x="491.02" y="302.53" width="9.87" height="11.87" fill="#d29c9c" stroke="none" stroke-width="0" />
<rect x="500.89" y="302.53" width="9.87" height="11.87" fill="#d29c9c" stroke="none" stroke-width="0" />
<rect x="510.76" y="302.53" width="9.87" height="11.87" fill="#d9a39d" stroke="none" stroke-width="0" />
<rect x="520.63" y="302.53" width="9.87" height="11.87" fill="#b27b94" stroke="none" stroke-width="0" />
<rect x="530.50" y="302.53" width="9.87" height="11.87" fill="#fdf3ee" stroke="none" stroke-width="0" />
<rect x="540.37" y="302.53" width="9.87" height="11.87" fill="#fbe5d8" stroke="none" stroke-width="0" />
<rect x="550.24" y="302.53" width="9.87" height="11.87" fill="#be8897" stroke="none" stroke-width="0" />
<rect x="560.10" y="302.53" width="9.87" height="11.87" fill="#737373" stroke="none" stroke-width="0" />
<rect x="569.97" y="302.53" width="9.87" height="11.87" fill="#fdf3ee" stroke="none" stroke-width="0" />
<rect x="579.84" y="302.53" width="9.87" height="11.87" fill="#d29c9c" stroke="none" stroke-width="0" />
<rect x="589.71" y="302.53" width="9.87" height="11.87" fill="#fdf3ee" stroke="none" stroke-width="0" />
<rect x="599.58" y="302.53" width="9.87" height="11.87" fill="#737373" stroke="none" stroke-width="0" />
<rect x="609.45" y="302.53" width="9.87" height="11.87" fill="#fdf3ee" stroke="none" stroke-width="0" />
<rect x="619.32" y="302.53" width="9.87" height="11.87" fill="#737373" stroke="none" stroke-width="0" />
<rect x="629.19" y="302.53" width="9.87" height="11.87" fill="#fdf3ee" stroke="none" stroke-width="0" />
<rect x="639.06" y="302.53" width="9.87" height="11.87" fill="#737373" stroke="none" stroke-width="0" />
<rect x="648.92" y="302.53" width="9.87" height="11.87" fill="#f5d0b6" stroke="none" stroke-width="0" />
<rect x="658.79" y="302.53" width="9.87" height="11.87" fill="#f7d9c6" stroke="none" stroke-width="0" />
<rect x="668.66" y="302.53" width="9.87" height="11.87" fill="#737373" stroke="none" stroke-width="0" />
<rect x="678.53" y="302.53" width="9.87" height="11.87" fill="#737373" stroke="none" stroke-width="0" />
<rect x="86.40" y="314.40" width="9.87" height="11.87" fill="#d9a39d" stroke="none" stroke-width="0" />
<rect x="96.27" y="314.40" width="9.87" height="11.87" fill="#f0c5aa" stroke="none" stroke-width="0" />
<rect x="106.14" y="314.40" width="9.87" height="11.87" fill="#f0c5aa" stroke="none" stroke-width="0" />
<rect x="116.01" y="314.40" width="9.87" height="11.87" fill="#bb8296" stroke="none" stroke-width="0" />
<rect x="125.88" y="314.40" width="9.87" height="11.87" fill="#bb8296" stroke="none" stroke-width="0" />
<rect x="135.74" y="314.40" width="9.87" height="11.87" fill="#f5d0b6" stroke="none" stroke-width="0" />
<rect x="145.61" y="314.40" width="9.87" height="11.87" fill="#b27b94" stroke="none" stroke-width="0" />
<rect x="155.48" y="314.40" width="9.87" height="11.87" fill="#f0c5aa" stroke="none" stroke-width="0" />
<rect x="165.35" y="314.40" width="9.87" height="11.87" fill="#f7d9c6" stroke="none" stroke-width="0" />
<rect x="175.22" y="314.40" width="9.87" height="11.87" fill="#f0c5aa" stroke="none" stroke-width="0" />
<rect x="185.09" y="314.40" width="9.87" height="11.87" fill="#b27b94" stroke="none" stroke-width="0" />
<rect x="194.96" y="314.40" width="9.87" height="11.87" fill="#f7d9c6" stroke="none" stroke-width="0" />
<rect x="204.83" y="314.40" width="9.87" height="11.87" fill="#f7d9c6" stroke="none" stroke-width="0" />
<rect x="214.70" y="314.40" width="9.87" height="11.87" fill="#d9a39d" stroke="none" stroke-width="0" />
<rect x="224.56" y="314.40" width="9.87" height="11.87" fill="#d29c9c" stroke="none" stroke-width="0" />
<rect x="234.43" y="314.40" width="9.87" height="11.87" fill="#e8b49e" stroke="none" stroke-width="0" />
<rect x="244.30" y="314.40" width="9.87" height="11.87" fill="#be8897" stroke="none" stroke-width="0" />
<rect x="254.17" y="314.40" width="9.87" height="11.87" fill="#fbe5d8" stroke="none" stroke-width="0" />
<rect x="264.04" y="314.40" width="9.87" height="11.87" fill="#b27b94" stroke="none" stroke-width="0" />
<rect x="273.91" y="314.40" width="9.87" height="11.87" fill="#d9a39d" stroke="none" stroke-width="0" />
<rect x="283.78" y="314.40" width="9.87" height="11.87" fill="#f7d9c6" stroke="none" stroke-width="0" />
<rect x="293.65" y="314.40" width="9.87" height="11.87" fill="#b27b94" stroke="none" stroke-width="0" />
<rect x="303.51" y="314.40" width="9.87" height="11.87" fill="#b27b94" stroke="none" stroke-width="0" />
<rect x="313.38" y="314.40" width="9.87" height="11.87" fill="#f7d9c6" stroke="none" stroke-width="0" />
<rect x="323.25" y="314.40" width="9.87" height="11.87" fill="#b27b94" stroke="none" stroke-width="0" />
<rect x="333.12" y="314.40" width="9.87" height="11.87" fill="#f5d0b6" stroke="none" stroke-width="0" />
<rect x="342.99" y="314.40" width="9.87" height="11.87" fill="#d9a39d" stroke="none" stroke-width="0" />
<rect x="352.86" y="314.40" width="9.87" height="11.87" fill="#b27b94" stroke="none" stroke-width="0" />
<rect x="362.73" y="314.40" width="9.87" height="11.87" fill="#fbe5d8" stroke="none" stroke-width="0" />
<rect x="372.60" y="314.40" width="9.87" height="11.87" fill="#bb8296" stroke="none" stroke-width="0" />
<rect x="382.47" y="314.40" width="9.87" height="11.87" fill="#d9a39d" stroke="none" stroke-width="0" />
<rect x="392.33" y="314.40" width="9.87" height="11.87" fill="#d9a39d" stroke="none" stroke-width="0" />
<rect x="402.20" y="314.40" width="9.87" height="11.87" fill="#f0c5aa" stroke="none" stroke-width="0" />
<rect x="412.07" y="314.40" width="9.87" height="11.87" fill="#bb8296" stroke="none" stroke-width="0" />
<rect x="421.94" y="314.40" width="9.87" height="11.87" fill="#bb8296" stroke="none" stroke-width="0" />
<rect x="431.81" y="314.40" width="9.87" height="11.87" fill="#737373" stroke="none" stroke-width="0" />
<rect x="441.68" y="314.40" width="9.87" height="11.87" fill="#f7d9c6" stroke="none" stroke-width="0" />
<rect x="451.55" y="314.40" width="9.87" height="11.87" fill="#bb8296" stroke="none" stroke-width="0" />
<rect x="461.42" y="314.40" width="9.87" height="11.87" fill="#be8897" stroke="none" stroke-width="0" />
<rect x="471.29" y="314.40" width="9.87" height="11.87" fill="#d9a39d" stroke="none" stroke-width="0" />
<rect x="481.15" y="314.40" width="9.87" height="11.87" fill="#bb8296" stroke="none" stroke-width="0" />
<rect x="491.02" y="314.40" width="9.87" height="11.87" fill="#d29c9c" stroke="none" stroke-width="0" />
<rect x="500.89" y="314.40" width="9.87" height="11.87" fill="#d29c9c" stroke="none" stroke-width="0" />
<rect x="510.76" y="314.40" width="9.87" height="11.87" fill="#d9a39d" stroke="none" stroke-width="0" />
<rect x="520.63" y="314.40" width="9.87" height="11.87" fill="#b27b94" stroke="none" stroke-width="0" />
<rect x="530.50" y="314.40" width="9.87" height="11.87" fill="#fdf3ee" stroke="none" stroke-width="0" />
<rect x="540.37" y="314.40" width="9.87" height="11.87" fill="#fbe5d8" stroke="none" stroke-width="0" />
<rect x="550.24" y="314.40" width="9.87" height="11.87" fill="#be8897" stroke="none" stroke-width="0" />
<rect x="560.10" y="314.40" width="9.87" height="11.87" fill="#737373" stroke="none" stroke-width="0" />
<rect x="569.97" y="314.40" width="9.87" height="11.87" fill="#fdf3ee" stroke="none" stroke-width="0" />
<rect x="579.84" y="314.40" width="9.87" height="11.87" fill="#d29c9c" stroke="none" stroke-width="0" />
<rect x="589.71" y="314.40" width="9.87" height="11.87" fill="#fdf3ee" stroke="none" stroke-width="0" />
<rect x="599.58" y="314.40" width="9.87" height="11.87" fill="#737373" stroke="none" stroke-width="0" />
<rect x="609.45" y="314.40" width="9.87" height="11.87" fill="#fdf3ee" stroke="none" stroke-width="0" />
<rect x="619.32" y="314.40" width="9.87" height="11.87" fill="#737373" stroke="none" stroke-width="0" />
<rect x="629.19" y="314.40" width="9.87" height="11.87" fill="#fdf3ee" stroke="none" stroke-width="0" />
<rect x="639.06" y="314.40" width="9.87" height="11.87" fill="#737373" stroke="none" stroke-width="0" />
<rect x="648.92" y="314.40" width="9.87" height="11.87" fill="#f5d0b6" stroke="none" stroke-width="0" />
<rect x="658.79" y="314.40" width="9.87" height="11.87" fill="#f7d9c6" stroke="none" stroke-width="0" />
<rect x="668.66" y="314.40" width="9.87" height="11.87" fill="#737373" stroke="none" stroke-width="0" />
<rect x="678.53" y="314.40" width="9.87" height="11.87" fill="#737373" stroke="none" stroke-width="0" />
<rect x="86.40" y="326.27" width="9.87" height="11.87" fill="#d9a39d" stroke="none" stroke-width="0" />
<rect x="96.27" y="326.27" width="9.87" height="11.87" fill="#f0c5aa" stroke="none" stroke-width="0" />
<rect x="106.14" y="326.27" width="9.87" height="11.87" fill="#f0c5aa" stroke="none" stroke-width="0" />
<rect x="116.01" y="326.27" width="9.87" height="11.87" fill="#bb8296" stroke="none" stroke-width="0" />
<rect x="125.88" y="326.27" width="9.87" height="11.87" fill="#bb8296" stroke="none" stroke-width="0" />
<rect x="135.74" y="326.27" width="9.87" height="11.87" fill="#f5d0b6" stroke="none" stroke-width="0" />
<rect x="145.61" y="326.27" width="9.87" height="11.87" fill="#b27b94" stroke="none" stroke-width="0" />
<rect x="155.48" y="326.27" width="9.87" height="11.87" fill="#f0c5aa" stroke="none" stroke-width="0" />
<rect x="165.35" y="326.27" width="9.87" height="11.87" fill="#f7d9c6" stroke="none" stroke-width="0" />
<rect x="175.22" y="326.27" width="9.87" height="11.87" fill="#f0c5aa" stroke="none" stroke-width="0" />
<rect x="185.09" y="326.27" width="9.87" height="11.87" fill="#b27b94" stroke="none" stroke-width="0" />
<rect x="194.96" y="326.27" width="9.87" height="11.87" fill="#f7d9c6" stroke="none" stroke-width="0" />
<rect x="204.83" y="326.27" width="9.87" height="11.87" fill="#f7d9c6" stroke="none" stroke-width="0" />
<rect x="214.70" y="326.27" width="9.87" height="11.87" fill="#d9a39d" stroke="none" stroke-width="0" />
<rect x="224.56" y="326.27" width="9.87" height="11.87" fill="#d29c9c" stroke="none" stroke-width="0" />
<rect x="234.43" y="326.27" width="9.87" height="11.87" fill="#e8b49e" stroke="none" stroke-width="0" />
<rect x="244.30" y="326.27" width="9.87" height="11.87" fill="#d29c9c" stroke="none" stroke-width="0" />
<rect x="254.17" y="326.27" width="9.87" height="11.87" fill="#fbe5d8" stroke="none" stroke-width="0" />
<rect x="264.04" y="326.27" width="9.87" height="11.87" fill="#b27b94" stroke="none" stroke-width="0" />
<rect x="273.91" y="326.27" width="9.87" height="11.87" fill="#d9a39d" stroke="none" stroke-width="0" />
<rect x="283.78" y="326.27" width="9.87" height="11.87" fill="#f7d9c6" stroke="none" stroke-width="0" />
<rect x="293.65" y="326.27" width="9.87" height="11.87" fill="#b27b94" stroke="none" stroke-width="0" />
<rect x="303.51" y="326.27" width="9.87" height="11.87" fill="#b27b94" stroke="none" stroke-width="0" />
<rect x="313.38" y="326.27" width="9.87" height="11.87" fill="#f7d9c6" stroke="none" stroke-width="0" />
<rect x="323.25" y="326.27" width="9.87" height="11.87" fill="#b27b94" stroke="none" stroke-width="0" />
<rect x="333.12" y="326.27" width="9.87" height="11.87" fill="#f5d0b6" stroke="none" stroke-width="0" />
<rect x="342.99" y="326.27" width="9.87" height="11.87" fill="#d9a39d" stroke="none" stroke-width="0" />
<rect x="352.86" y="326.27" width="9.87" height="11.87" fill="#b27b94" stroke="none" stroke-width="0" />
<rect x="362.73" y="326.27" width="9.87" height="11.87" fill="#fdf3ee" stroke="none" stroke-width="0" />
<rect x="372.60" y="326.27" width="9.87" height="11.87" fill="#bb8296" stroke="none" stroke-width="0" />
<rect x="382.47" y="326.27" width="9.87" height="11.87" fill="#f0c5aa" stroke="none" stroke-width="0" />
<rect x="392.33" y="326.27" width="9.87" height="11.87" fill="#d9a39d" stroke="none" stroke-width="0" />
<rect x="402.20" y="326.27" width="9.87" height="11.87" fill="#737373" stroke="none" stroke-width="0" />
<rect x="412.07" y="326.27" width="9.87" height="11.87" fill="#bb8296" stroke="none" stroke-width="0" />
<rect x="421.94" y="326.27" width="9.87" height="11.87" fill="#bb8296" stroke="none" stroke-width="0" />
<rect x="431.81" y="326.27" width="9.87" height="11.87" fill="#737373" stroke="none" stroke-width="0" />
<rect x="441.68" y="326.27" width="9.87" height="11.87" fill="#fdf3ee" stroke="none" stroke-width="0" />
<rect x="451.55" y="326.27" width="9.87" height="11.87" fill="#bb8296" stroke="none" stroke-width="0" />
<rect x="461.42" y="326.27" width="9.87" height="11.87" fill="#fdf3ee" stroke="none" stroke-width="0" />
<rect x="471.29" y="326.27" width="9.87" height="11.87" fill="#d9a39d" stroke="none" stroke-width="0" />
<rect x="481.15" y="326.27" width="9.87" height="11.87" fill="#bb8296" stroke="none" stroke-width="0" />
<rect x="491.02" y="326.27" width="9.87" height="11.87" fill="#d29c9c" stroke="none" stroke-width="0" />
<rect x="500.89" y="326.27" width="9.87" height="11.87" fill="#d29c9c" stroke="none" stroke-width="0" />
<rect x="510.76" y="326.27" width="9.87" height="11.87" fill="#d9a39d" stroke="none" stroke-width="0" />
<rect x="520.63" y="326.27" width="9.87" height="11.87" fill="#b27b94" stroke="none" stroke-width="0" />
<rect x="530.50" y="326.27" width="9.87" height="11.87" fill="#fdf3ee" stroke="none" stroke-width="0" />
<rect x="540.37" y="326.27" width="9.87" height="11.87" fill="#fbe5d8" stroke="none" stroke-width="0" />
<rect x="550.24" y="326.27" width="9.87" height="11.87" fill="#d9a39d" stroke="none" stroke-width="0" />
<rect x="560.10" y="326.27" width="9.87" height="11.87" fill="#fdf3ee" stroke="none" stroke-width="0" />
<rect x="569.97" y="326.27" width="9.87" height="11.87" fill="#737373" stroke="none" stroke-width="0" />
<rect x="579.84" y="326.27" width="9.87" height="11.87" fill="#d29c9c" stroke="none" stroke-width="0" />
<rect x="589.71" y="326.27" width="9.87" height="11.87" fill="#fdf3ee" stroke="none" stroke-width="0" />
<rect x="599.58" y="326.27" width="9.87" height="11.87" fill="#737373" stroke="none" stroke-width="0" />
<rect x="609.45" y="326.27" width="9.87" height="11.87" fill="#737373" stroke="none" stroke-width="0" />
<rect x="619.32" y="326.27" width="9.87" height="11.87" fill="#fdf3ee" stroke="none" stroke-width="0" />
<rect x="629.19" y="326.27" width="9.87" height="11.87" fill="#fdf3ee" stroke="none" stroke-width="0" />
<rect x="639.06" y="326.27" width="9.87" height="11.87" fill="#737373" stroke="none" stroke-width="0" />
<rect x="648.92" y="326.27" width="9.87" height="11.87" fill="#737373" stroke="none" stroke-width="0" />
<rect x="658.79" y="326.27" width="9.87" height="11.87" fill="#f7d9c6" stroke="none" stroke-width="0" />
<rect x="668.66" y="326.27" width="9.87" height="11.87" fill="#737373" stroke="none" stroke-width="0" />
<rect x="678.53" y="326.27" width="9.87" height="11.87" fill="#737373" stroke="none" stroke-width="0" />
<rect x="86.40" y="338.13" width="9.87" height="11.87" fill="#be8897" stroke="none" stroke-width="0" />
<rect x="96.27" y="338.13" width="9.87" height="11.87" fill="#f5d0b6" stroke="none" stroke-width="0" />
<rect x="106.14" y="338.13" width="9.87" height="11.87" fill="#f5d0b6" stroke="none" stroke-width="0" />
<rect x="116.01" y="338.13" width="9.87" height="11.87" fill="#be8897" stroke="none" stroke-width="0" />
<rect x="125.88" y="338.13" width="9.87" height="11.87" fill="#be8897" stroke="none" stroke-width="0" />
<rect x="135.74" y="338.13" width="9.87" height="11.87" fill="#be8897" stroke="none" stroke-width="0" />
<rect x="145.61" y="338.13" width="9.87" height="11.87" fill="#bb8296" stroke="none" stroke-width="0" />
<rect x="155.48" y="338.13" width="9.87" height="11.87" fill="#f5d0b6" stroke="none" stroke-width="0" />
<rect x="165.35" y="338.13" width="9.87" height="11.87" fill="#d29c9c" stroke="none" stroke-width="0" />
<rect x="175.22" y="338.13" width="9.87" height="11.87" fill="#d29c9c" stroke="none" stroke-width="0" />
<rect x="185.09" y="338.13" width="9.87" height="11.87" fill="#bb8296" stroke="none" stroke-width="0" />
<rect x="194.96" y="338.13" width="9.87" height="11.87" fill="#be8897" stroke="none" stroke-width="0" />
<rect x="204.83" y="338.13" width="9.87" height="11.87" fill="#be8897" stroke="none" stroke-width="0" />
<rect x="214.70" y="338.13" width="9.87" height="11.87" fill="#be8897" stroke="none" stroke-width="0" />
<rect x="224.56" y="338.13" width="9.87" height="11.87" fill="#be8897" stroke="none" stroke-width="0" />
<rect x="234.43" y="338.13" width="9.87" height="11.87" fill="#be8897" stroke="none" stroke-width="0" />
<rect x="244.30" y="338.13" width="9.87" height="11.87" fill="#be8897" stroke="none" stroke-width="0" />
<rect x="254.17" y="338.13" width="9.87" height="11.87" fill="#be8897" stroke="none" stroke-width="0" />
<rect x="264.04" y="338.13" width="9.87" height="11.87" fill="#be8897" stroke="none" stroke-width="0" />
<rect x="273.91" y="338.13" width="9.87" height="11.87" fill="#be8897" stroke="none" stroke-width="0" />
<rect x="283.78" y="338.13" width="9.87" height="11.87" fill="#be8897" stroke="none" stroke-width="0" />
<rect x="293.65" y="338.13" width="9.87" height="11.87" fill="#be8897" stroke="none" stroke-width="0" />
<rect x="303.51" y="338.13" width="9.87" height="11.87" fill="#be8897" stroke="none" stroke-width="0" />
<rect x="313.38" y="338.13" width="9.87" height="11.87" fill="#be8897" stroke="none" stroke-width="0" />
<rect x="323.25" y="338.13" width="9.87" height="11.87" fill="#be8897" stroke="none" stroke-width="0" />
<rect x="333.12" y="338.13" width="9.87" height="11.87" fill="#d29c9c" stroke="none" stroke-width="0" />
<rect x="342.99" y="338.13" width="9.87" height="11.87" fill="#be8897" stroke="none" stroke-width="0" />
<rect x="352.86" y="338.13" width="9.87" height="11.87" fill="#be8897" stroke="none" stroke-width="0" />
<rect x="362.73" y="338.13" width="9.87" height="11.87" fill="#be8897" stroke="none" stroke-width="0" />
<rect x="372.60" y="338.13" width="9.87" height="11.87" fill="#be8897" stroke="none" stroke-width="0" />
<rect x="382.47" y="338.13" width="9.87" height="11.87" fill="#be8897" stroke="none" stroke-width="0" />
<rect x="392.33" y="338.13" width="9.87" height="11.87" fill="#be8897" stroke="none" stroke-width="0" />
<rect x="402.20" y="338.13" width="9.87" height="11.87" fill="#be8897" stroke="none" stroke-width="0" />
<rect x="412.07" y="338.13" width="9.87" height="11.87" fill="#be8897" stroke="none" stroke-width="0" />
<rect x="421.94" y="338.13" width="9.87" height="11.87" fill="#be8897" stroke="none" stroke-width="0" />
<rect x="431.81" y="338.13" width="9.87" height="11.87" fill="#be8897" stroke="none" stroke-width="0" />
<rect x="441.68" y="338.13" width="9.87" height="11.87" fill="#be8897" stroke="none" stroke-width="0" />
<rect x="451.55" y="338.13" width="9.87" height="11.87" fill="#be8897" stroke="none" stroke-width="0" />
<rect x="461.42" y="338.13" width="9.87" height="11.87" fill="#be8897" stroke="none" stroke-width="0" />
<rect x="471.29" y="338.13" width="9.87" height="11.87" fill="#be8897" stroke="none" stroke-width="0" />
<rect x="481.15" y="338.13" width="9.87" height="11.87" fill="#be8897" stroke="none" stroke-width="0" />
<rect x="491.02" y="338.13" width="9.87" height="11.87" fill="#be8897" stroke="none" stroke-width="0" />
<rect x="500.89" y="338.13" width="9.87" height="11.87" fill="#be8897" stroke="none" stroke-width="0" />
<rect x="510.76" y="338.13" width="9.87" height="11.87" fill="#be8897" stroke="none" stroke-width="0" />
<rect x="520.63" y="338.13" width="9.87" height="11.87" fill="#be8897" stroke="none" stroke-width="0" />
<rect x="530.50" y="338.13" width="9.87" height="11.87" fill="#d29c9c" stroke="none" stroke-width="0" />
<rect x="540.37" y="338.13" width="9.87" height="11.87" fill="#d29c9c" stroke="none" stroke-width="0" />
<rect x="550.24" y="338.13" width="9.87" height="11.87" fill="#be8897" stroke="none" stroke-width="0" />
<rect x="560.10" y="338.13" width="9.87" height="11.87" fill="#be8897" stroke="none" stroke-width="0" />
<rect x="569.97" y="338.13" width="9.87" height="11.87" fill="#d29c9c" stroke="none" stroke-width="0" />
<rect x="579.84" y="338.13" width="9.87" height="11.87" fill="#be8897" stroke="none" stroke-width="0" />
<rect x="589.71" y="338.13" width="9.87" height="11.87" fill="#be8897" stroke="none" stroke-width="0" />
<rect x="599.58" y="338.13" width="9.87" height="11.87" fill="#be8897" stroke="none" stroke-width="0" />
<rect x="609.45" y="338.13" width="9.87" height="11.87" fill="#be8897" stroke="none" stroke-width="0" />
<rect x="619.32" y="338.13" width="9.87" height="11.87" fill="#be8897" stroke="none" stroke-width="0" />
<rect x="629.19" y="338.13" width="9.87" height="11.87" fill="#be8897" stroke="none" stroke-width="0" />
<rect x="639.06" y="338.13" width="9.87" height="11.87" fill="#be8897" stroke="none" stroke-width="0" />
<rect x="648.92" y="338.13" width="9.87" height="11.87" fill="#be8897" stroke="none" stroke-width="0" />
<rect x="658.79" y="338.13" width="9.87" height="11.87" fill="#be8897" stroke="none" stroke-width="0" />
<rect x="668.66" y="338.13" width="9.87" height="11.87" fill="#be8897" stroke="none" stroke-width="0" />
<rect x="678.53" y="338.13" width="9.87" height="11.87" fill="#be8897" stroke="none" stroke-width="0" />
<rect x="86.40" y="350.00" width="9.87" height="11.87" fill="#be8897" stroke="none" stroke-width="0" />
<rect x="96.27" y="350.00" width="9.87" height="11.87" fill="#be8897" stroke="none" stroke-width="0" />
<rect x="106.14" y="350.00" width="9.87" height="11.87" fill="#be8897" stroke="none" stroke-width="0" />
<rect x="116.01" y="350.00" width="9.87" height="11.87" fill="#be8897" stroke="none" stroke-width="0" />
<rect x="125.88" y="350.00" width="9.87" height="11.87" fill="#be8897" stroke="none" stroke-width="0" />
<rect x="135.74" y="350.00" width="9.87" height="11.87" fill="#be8897" stroke="none" stroke-width="0" />
<rect x="145.61" y="350.00" width="9.87" height="11.87" fill="#be8897" stroke="none" stroke-width="0" />
<rect x="155.48" y="350.00" width="9.87" height="11.87" fill="#d29c9c" stroke="none" stroke-width="0" />
<rect x="165.35" y="350.00" width="9.87" height="11.87" fill="#be8897" stroke="none" stroke-width="0" />
<rect x="175.22" y="350.00" width="9.87" height="11.87" fill="#be8897" stroke="none" stroke-width="0" />
<rect x="185.09" y="350.00" width="9.87" height="11.87" fill="#be8897" stroke="none" stroke-width="0" />
<rect x="194.96" y="350.00" width="9.87" height="11.87" fill="#be8897" stroke="none" stroke-width="0" />
<rect x="204.83" y="350.00" width="9.87" height="11.87" fill="#be8897" stroke="none" stroke-width="0" />
<rect x="214.70" y="350.00" width="9.87" height="11.87" fill="#be8897" stroke="none" stroke-width="0" />
<rect x="224.56" y="350.00" width="9.87" height="11.87" fill="#be8897" stroke="none" stroke-width="0" />
<rect x="234.43" y="350.00" width="9.87" height="11.87" fill="#be8897" stroke="none" stroke-width="0" />
<rect x="244.30" y="350.00" width="9.87" height="11.87" fill="#be8897" stroke="none" stroke-width="0" />
<rect x="254.17" y="350.00" width="9.87" height="11.87" fill="#be8897" stroke="none" stroke-width="0" />
<rect x="264.04" y="350.00" width="9.87" height="11.87" fill="#be8897" stroke="none" stroke-width="0" />
<rect x="273.91" y="350.00" width="9.87" height="11.87" fill="#be8897" stroke="none" stroke-width="0" />
<rect x="283.78" y="350.00" width="9.87" height="11.87" fill="#be8897" stroke="none" stroke-width="0" />
<rect x="293.65" y="350.00" width="9.87" height="11.87" fill="#be8897" stroke="none" stroke-width="0" />
<rect x="303.51" y="350.00" width="9.87" height="11.87" fill="#be8897" stroke="none" stroke-width="0" />
<rect x="313.38" y="350.00" width="9.87" height="11.87" fill="#be8897" stroke="none" stroke-width="0" />
<rect x="323.25" y="350.00" width="9.87" height="11.87" fill="#be8897" stroke="none" stroke-width="0" />
<rect x="333.12" y="350.00" width="9.87" height="11.87" fill="#be8897" stroke="none" stroke-width="0" />
<rect x="342.99" y="350.00" width="9.87" height="11.87" fill="#be8897" stroke="none" stroke-width="0" />
<rect x="352.86" y="350.00" width="9.87" height="11.87" fill="#be8897" stroke="none" stroke-width="0" />
<rect x="362.73" y="350.00" width="9.87" height="11.87" fill="#be8897" stroke="none" stroke-width="0" />
<rect x="372.60" y="350.00" width="9.87" height="11.87" fill="#be8897" stroke="none" stroke-width="0" />
<rect x="382.47" y="350.00" width="9.87" height="11.87" fill="#be8897" stroke="none" stroke-width="0" />
<rect x="392.33" y="350.00" width="9.87" height="11.87" fill="#be8897" stroke="none" stroke-width="0" />
<rect x="402.20" y="350.00" width="9.87" height="11.87" fill="#be8897" stroke="none" stroke-width="0" />
<rect x="412.07" y="350.00" width="9.87" height="11.87" fill="#be8897" stroke="none" stroke-width="0" />
<rect x="421.94" y="350.00" width="9.87" height="11.87" fill="#be8897" stroke="none" stroke-width="0" />
<rect x="431.81" y="350.00" width="9.87" height="11.87" fill="#be8897" stroke="none" stroke-width="0" />
<rect x="441.68" y="350.00" width="9.87" height="11.87" fill="#be8897" stroke="none" stroke-width="0" />
<rect x="451.55" y="350.00" width="9.87" height="11.87" fill="#be8897" stroke="none" stroke-width="0" />
<rect x="461.42" y="350.00" width="9.87" height="11.87" fill="#be8897" stroke="none" stroke-width="0" />
<rect x="471.29" y="350.00" width="9.87" height="11.87" fill="#be8897" stroke="none" stroke-width="0" />
<rect x="481.15" y="350.00" width="9.87" height="11.87" fill="#be8897" stroke="none" stroke-width="0" />
<rect x="491.02" y="350.00" width="9.87" height="11.87" fill="#be8897" stroke="none" stroke-width="0" />
<rect x="500.89" y="350.00" width="9.87" height="11.87" fill="#be8897" stroke="none" stroke-width="0" />
<rect x="510.76" y="350.00" width="9.87" height="11.87" fill="#be8897" stroke="none" stroke-width="0" />
<rect x="520.63" y="350.00" width="9.87" height="11.87" fill="#be8897" stroke="none" stroke-width="0" />
<rect x="530.50" y="350.00" width="9.87" height="11.87" fill="#d29c9c" stroke="none" stroke-width="0" />
<rect x="540.37" y="350.00" width="9.87" height="11.87" fill="#d29c9c" stroke="none" stroke-width="0" />
<rect x="550.24" y="350.00" width="9.87" height="11.87" fill="#be8897" stroke="none" stroke-width="0" />
<rect x="560.10" y="350.00" width="9.87" height="11.87" fill="#be8897" stroke="none" stroke-width="0" />
<rect x="569.97" y="350.00" width="9.87" height="11.87" fill="#be8897" stroke="none" stroke-width="0" />
<rect x="579.84" y="350.00" width="9.87" height="11.87" fill="#be8897" stroke="none" stroke-width="0" />
<rect x="589.71" y="350.00" width="9.87" height="11.87" fill="#be8897" stroke="none" stroke-width="0" />
<rect x="599.58" y="350.00" width="9.87" height="11.87" fill="#be8897" stroke="none" stroke-width="0" />
<rect x="609.45" y="350.00" width="9.87" height="11.87" fill="#be8897" stroke="none" stroke-width="0" />
<rect x="619.32" y="350.00" width="9.87" height="11.87" fill="#be8897" stroke="none" stroke-width="0" />
<rect x="629.19" y="350.00" width="9.87" height="11.87" fill="#be8897" stroke="none" stroke-width="0" />
<rect x="639.06" y="350.00" width="9.87" height="11.87" fill="#be8897" stroke="none" stroke-width="0" />
<rect x="648.92" y="350.00" width="9.87" height="11.87" fill="#be8897" stroke="none" stroke-width="0" />
<rect x="658.79" y="350.00" width="9.87" height="11.87" fill="#be8897" stroke="none" stroke-width="0" />
<rect x="668.66" y="350.00" width="9.87" height="11.87" fill="#be8897" stroke="none" stroke-width="0" />
<rect x="678.53" y="350.00" width="9.87" height="11.87" fill="#be8897" stroke="none" stroke-width="0" />
<rect x="86.40" y="361.87" width="9.87" height="11.87" fill="#be8897" stroke="none" stroke-width="0" />
<rect x="96.27" y="361.87" width="9.87" height="11.87" fill="#be8897" stroke="none" stroke-width="0" />
<rect x="106.14" y="361.87" width="9.87" height="11.87" fill="#be8897" stroke="none" stroke-width="0" />
<rect x="116.01" y="361.87" width="9.87" height="11.87" fill="#be8897" stroke="none" stroke-width="0" />
<rect x="125.88" y="361.87" width="9.87" height="11.87" fill="#be8897" stroke="none" stroke-width="0" />
<rect x="135.74" y="361.87" width="9.87" height="11.87" fill="#be8897" stroke="none" stroke-width="0" />
<rect x="145.61" y="361.87" width="9.87" height="11.87" fill="#be8897" stroke="none" stroke-width="0" />
<rect x="155.48" y="361.87" width="9.87" height="11.87" fill="#be8897" stroke="none" stroke-width="0" />
<rect x="165.35" y="361.87" width="9.87" height="11.87" fill="#be8897" stroke="none" stroke-width="0" />
<rect x="175.22" y="361.87" width="9.87" height="11.87" fill="#be8897" stroke="none" stroke-width="0" />
<rect x="185.09" y="361.87" width="9.87" height="11.87" fill="#be8897" stroke="none" stroke-width="0" />
<rect x="194.96" y="361.87" width="9.87" height="11.87" fill="#be8897" stroke="none" stroke-width="0" />
<rect x="204.83" y="361.87" width="9.87" height="11.87" fill="#be8897" stroke="none" stroke-width="0" />
<rect x="214.70" y="361.87" width="9.87" height="11.87" fill="#be8897" stroke="none" stroke-width="0" />
<rect x="224.56" y="361.87" width="9.87" height="11.87" fill="#be8897" stroke="none" stroke-width="0" />
<rect x="234.43" y="361.87" width="9.87" height="11.87" fill="#be8897" stroke="none" stroke-width="0" />
<rect x="244.30" y="361.87" width="9.87" height="11.87" fill="#be8897" stroke="none" stroke-width="0" />
<rect x="254.17" y="361.87" width="9.87" height="11.87" fill="#be8897" stroke="none" stroke-width="0" />
<rect x="264.04" y="361.87" width="9.87" height="11.87" fill="#be8897" stroke="none" stroke-width="0" />
<rect x="273.91" y="361.87" width="9.87" height="11.87" fill="#be8897" stroke="none" stroke-width="0" />
<rect x="283.78" y="361.87" width="9.87" height="11.87" fill="#be8897" stroke="none" stroke-width="0" />
<rect x="293.65" y="361.87" width="9.87" height="11.87" fill="#be8897" stroke="none" stroke-width="0" />
<rect x="303.51" y="361.87" width="9.87" height="11.87" fill="#be8897" stroke="none" stroke-width="0" />
<rect x="313.38" y="361.87" width="9.87" height="11.87" fill="#be8897" stroke="none" stroke-width="0" />
<rect x="323.25" y="361.87" width="9.87" height="11.87" fill="#be8897" stroke="none" stroke-width="0" />
<rect x="333.12" y="361.87" width="9.87" height="11.87" fill="#be8897" stroke="none" stroke-width="0" />
<rect x="342.99" y="361.87" width="9.87" height="11.87" fill="#be8897" stroke="none" stroke-width="0" />
<rect x="352.86" y="361.87" width="9.87" height="11.87" fill="#be8897" stroke="none" stroke-width="0" />
<rect x="362.73" y="361.87" width="9.87" height="11.87" fill="#be8897" stroke="none" stroke-width="0" />
<rect x="372.60" y="361.87" width="9.87" height="11.87" fill="#be8897" stroke="none" stroke-width="0" />
<rect x="382.47" y="361.87" width="9.87" height="11.87" fill="#be8897" stroke="none" stroke-width="0" />
<rect x="392.33" y="361.87" width="9.87" height="11.87" fill="#be8897" stroke="none" stroke-width="0" />
<rect x="402.20" y="361.87" width="9.87" height="11.87" fill="#be8897" stroke="none" stroke-width="0" />
<rect x="412.07" y="361.87" width="9.87" height="11.87" fill="#be8897" stroke="none" stroke-width="0" />
<rect x="421.94" y="361.87" width="9.87" height="11.87" fill="#be8897" stroke="none" stroke-width="0" />
<rect x="431.81" y="361.87" width="9.87" height="11.87" fill="#be8897" stroke="none" stroke-width="0" />
<rect x="441.68" y="361.87" width="9.87" height="11.87" fill="#be8897" stroke="none" stroke-width="0" />
<rect x="451.55" y="361.87" width="9.87" height="11.87" fill="#be8897" stroke="none" stroke-width="0" />
<rect x="461.42" y="361.87" width="9.87" height="11.87" fill="#be8897" stroke="none" stroke-width="0" />
<rect x="471.29" y="361.87" width="9.87" height="11.87" fill="#be8897" stroke="none" stroke-width="0" />
<rect x="481.15" y="361.87" width="9.87" height="11.87" fill="#be8897" stroke="none" stroke-width="0" />
<rect x="491.02" y="361.87" width="9.87" height="11.87" fill="#be8897" stroke="none" stroke-width="0" />
<rect x="500.89" y="361.87" width="9.87" height="11.87" fill="#be8897" stroke="none" stroke-width="0" />
<rect x="510.76" y="361.87" width="9.87" height="11.87" fill="#be8897" stroke="none" stroke-width="0" />
<rect x="520.63" y="361.87" width="9.87" height="11.87" fill="#be8897" stroke="none" stroke-width="0" />
<rect x="530.50" y="361.87" width="9.87" height="11.87" fill="#be8897" stroke="none" stroke-width="0" />
<rect x="540.37" y="361.87" width="9.87" height="11.87" fill="#be8897" stroke="none" stroke-width="0" />
<rect x="550.24" y="361.87" width="9.87" height="11.87" fill="#be8897" stroke="none" stroke-width="0" />
<rect x="560.10" y="361.87" width="9.87" height="11.87" fill="#be8897" stroke="none" stroke-width="0" />
<rect x="569.97" y="361.87" width="9.87" height="11.87" fill="#be8897" stroke="none" stroke-width="0" />
<rect x="579.84" y="361.87" width="9.87" height="11.87" fill="#be8897" stroke="none" stroke-width="0" />
<rect x="589.71" y="361.87" width="9.87" height="11.87" fill="#be8897" stroke="none" stroke-width="0" />
<rect x="599.58" y="361.87" width="9.87" height="11.87" fill="#be8897" stroke="none" stroke-width="0" />
<rect x="609.45" y="361.87" width="9.87" height="11.87" fill="#be8897" stroke="none" stroke-width="0" />
<rect x="619.32" y="361.87" width="9.87" height="11.87" fill="#be8897" stroke="none" stroke-width="0" />
<rect x="629.19" y="361.87" width="9.87" height="11.87" fill="#be8897" stroke="none" stroke-width="0" />
<rect x="639.06" y="361.87" width="9.87" height="11.87" fill="#be8897" stroke="none" stroke-width="0" />
<rect x="648.92" y="361.87" width="9.87" height="11.87" fill="#be8897" stroke="none" stroke-width="0" />
<rect x="658.79" y="361.87" width="9.87" height="11.87" fill="#be8897" stroke="none" stroke-width="0" />
<rect x="668.66" y="361.87" width="9.87" height="11.87" fill="#be8897" stroke="none" stroke-width="0" />
<rect x="678.53" y="361.87" width="9.87" height="11.87" fill="#be8897" stroke="none" stroke-width="0" />
<rect x="86.40" y="373.73" width="9.87" height="11.87" fill="#be8897" stroke="none" stroke-width="0" />
<rect x="96.27" y="373.73" width="9.87" height="11.87" fill="#d29c9c" stroke="none" stroke-width="0" />
<rect x="106.14" y="373.73" width="9.87" height="11.87" fill="#d29c9c" stroke="none" stroke-width="0" />
<rect x="116.01" y="373.73" width="9.87" height="11.87" fill="#be8897" stroke="none" stroke-width="0" />
<rect x="125.88" y="373.73" width="9.87" height="11.87" fill="#be8897" stroke="none" stroke-width="0" />
<rect x="135.74" y="373.73" width="9.87" height="11.87" fill="#d29c9c" stroke="none" stroke-width="0" />
<rect x="145.61" y="373.73" width="9.87" height="11.87" fill="#be8897" stroke="none" stroke-width="0" />
<rect x="155.48" y="373.73" width="9.87" height="11.87" fill="#737373" stroke="none" stroke-width="0" />
<rect x="165.35" y="373.73" width="9.87" height="11.87" fill="#d29c9c" stroke="none" stroke-width="0" />
<rect x="175.22" y="373.73" width="9.87" height="11.87" fill="#d29c9c" stroke="none" stroke-width="0" />
<rect x="185.09" y="373.73" width="9.87" height="11.87" fill="#be8897" stroke="none" stroke-width="0" />
<rect x="194.96" y="373.73" width="9.87" height="11.87" fill="#be8897" stroke="none" stroke-width="0" />
<rect x="204.83" y="373.73" width="9.87" height="11.87" fill="#d29c9c" stroke="none" stroke-width="0" />
<rect x="214.70" y="373.73" width="9.87" height="11.87" fill="#be8897" stroke="none" stroke-width="0" />
<rect x="224.56" y="373.73" width="9.87" height="11.87" fill="#be8897" stroke="none" stroke-width="0" />
<rect x="234.43" y="373.73" width="9.87" height="11.87" fill="#be8897" stroke="none" stroke-width="0" />
<rect x="244.30" y="373.73" width="9.87" height="11.87" fill="#be8897" stroke="none" stroke-width="0" />
<rect x="254.17" y="373.73" width="9.87" height="11.87" fill="#d29c9c" stroke="none" stroke-width="0" />
<rect x="264.04" y="373.73" width="9.87" height="11.87" fill="#be8897" stroke="none" stroke-width="0" />
<rect x="273.91" y="373.73" width="9.87" height="11.87" fill="#be8897" stroke="none" stroke-width="0" />
<rect x="283.78" y="373.73" width="9.87" height="11.87" fill="#d29c9c" stroke="none" stroke-width="0" />
<rect x="293.65" y="373.73" width="9.87" height="11.87" fill="#be8897" stroke="none" stroke-width="0" />
<rect x="303.51" y="373.73" width="9.87" height="11.87" fill="#be8897" stroke="none" stroke-width="0" />
<rect x="313.38" y="373.73" width="9.87" height="11.87" fill="#d29c9c" stroke="none" stroke-width="0" />
<rect x="323.25" y="373.73" width="9.87" height="11.87" fill="#be8897" stroke="none" stroke-width="0" />
<rect x="333.12" y="373.73" width="9.87" height="11.87" fill="#f5d0b6" stroke="none" stroke-width="0" />
<rect x="342.99" y="373.73" width="9.87" height="11.87" fill="#be8897" stroke="none" stroke-width="0" />
<rect x="352.86" y="373.73" width="9.87" height="11.87" fill="#be8897" stroke="none" stroke-width="0" />
<rect x="362.73" y="373.73" width="9.87" height="11.87" fill="#be8897" stroke="none" stroke-width="0" />
<rect x="372.60" y="373.73" width="9.87" height="11.87" fill="#be8897" stroke="none" stroke-width="0" />
<rect x="382.47" y="373.73" width="9.87" height="11.87" fill="#be8897" stroke="none" stroke-width="0" />
<rect x="392.33" y="373.73" width="9.87" height="11.87" fill="#be8897" stroke="none" stroke-width="0" />
<rect x="402.20" y="373.73" width="9.87" height="11.87" fill="#be8897" stroke="none" stroke-width="0" />
<rect x="412.07" y="373.73" width="9.87" height="11.87" fill="#be8897" stroke="none" stroke-width="0" />
<rect x="421.94" y="373.73" width="9.87" height="11.87" fill="#be8897" stroke="none" stroke-width="0" />
<rect x="431.81" y="373.73" width="9.87" height="11.87" fill="#be8897" stroke="none" stroke-width="0" />
<rect x="441.68" y="373.73" width="9.87" height="11.87" fill="#be8897" stroke="none" stroke-width="0" />
<rect x="451.55" y="373.73" width="9.87" height="11.87" fill="#be8897" stroke="none" stroke-width="0" />
<rect x="461.42" y="373.73" width="9.87" height="11.87" fill="#be8897" stroke="none" stroke-width="0" />
<rect x="471.29" y="373.73" width="9.87" height="11.87" fill="#be8897" stroke="none" stroke-width="0" />
<rect x="481.15" y="373.73" width="9.87" height="11.87" fill="#be8897" stroke="none" stroke-width="0" />
<rect x="491.02" y="373.73" width="9.87" height="11.87" fill="#be8897" stroke="none" stroke-width="0" />
<rect x="500.89" y="373.73" width="9.87" height="11.87" fill="#be8897" stroke="none" stroke-width="0" />
<rect x="510.76" y="373.73" width="9.87" height="11.87" fill="#d29c9c" stroke="none" stroke-width="0" />
<rect x="520.63" y="373.73" width="9.87" height="11.87" fill="#be8897" stroke="none" stroke-width="0" />
<rect x="530.50" y="373.73" width="9.87" height="11.87" fill="#f7d9c6" stroke="none" stroke-width="0" />
<rect x="540.37" y="373.73" width="9.87" height="11.87" fill="#f5d0b6" stroke="none" stroke-width="0" />
<rect x="550.24" y="373.73" width="9.87" height="11.87" fill="#be8897" stroke="none" stroke-width="0" />
<rect x="560.10" y="373.73" width="9.87" height="11.87" fill="#be8897" stroke="none" stroke-width="0" />
<rect x="569.97" y="373.73" width="9.87" height="11.87" fill="#d29c9c" stroke="none" stroke-width="0" />
<rect x="579.84" y="373.73" width="9.87" height="11.87" fill="#be8897" stroke="none" stroke-width="0" />
<rect x="589.71" y="373.73" width="9.87" height="11.87" fill="#be8897" stroke="none" stroke-width="0" />
<rect x="599.58" y="373.73" width="9.87" height="11.87" fill="#be8897" stroke="none" stroke-width="0" />
<rect x="609.45" y="373.73" width="9.87" height="11.87" fill="#be8897" stroke="none" stroke-width="0" />
<rect x="619.32" y="373.73" width="9.87" height="11.87" fill="#be8897" stroke="none" stroke-width="0" />
<rect x="629.19" y="373.73" width="9.87" height="11.87" fill="#be8897" stroke="none" stroke-width="0" />
<rect x="639.06" y="373.73" width="9.87" height="11.87" fill="#d29c9c" stroke="none" stroke-width="0" />
<rect x="648.92" y="373.73" width="9.87" height="11.87" fill="#be8897" stroke="none" stroke-width="0" />
<rect x="658.79" y="373.73" width="9.87" height="11.87" fill="#d29c9c" stroke="none" stroke-width="0" />
<rect x="668.66" y="373.73" width="9.87" height="11.87" fill="#be8897" stroke="none" stroke-width="0" />
<rect x="678.53" y="373.73" width="9.87" height="11.87" fill="#be8897" stroke="none" stroke-width="0" />
<rect x="86.40" y="385.60" width="9.87" height="11.87" fill="#be8897" stroke="none" stroke-width="0" />
<rect x="96.27" y="385.60" width="9.87" height="11.87" fill="#d29c9c" stroke="none" stroke-width="0" />
<rect x="106.14" y="385.60" width="9.87" height="11.87" fill="#d29c9c" stroke="none" stroke-width="0" />
<rect x="116.01" y="385.60" width="9.87" height="11.87" fill="#be8897" stroke="none" stroke-width="0" />
<rect x="125.88" y="385.60" width="9.87" height="11.87" fill="#be8897" stroke="none" stroke-width="0" />
<rect x="135.74" y="385.60" width="9.87" height="11.87" fill="#d29c9c" stroke="none" stroke-width="0" />
<rect x="145.61" y="385.60" width="9.87" height="11.87" fill="#be8897" stroke="none" stroke-width="0" />
<rect x="155.48" y="385.60" width="9.87" height="11.87" fill="#f5d0b6" stroke="none" stroke-width="0" />
<rect x="165.35" y="385.60" width="9.87" height="11.87" fill="#f5d0b6" stroke="none" stroke-width="0" />
<rect x="175.22" y="385.60" width="9.87" height="11.87" fill="#d29c9c" stroke="none" stroke-width="0" />
<rect x="185.09" y="385.60" width="9.87" height="11.87" fill="#be8897" stroke="none" stroke-width="0" />
<rect x="194.96" y="385.60" width="9.87" height="11.87" fill="#be8897" stroke="none" stroke-width="0" />
<rect x="204.83" y="385.60" width="9.87" height="11.87" fill="#d29c9c" stroke="none" stroke-width="0" />
<rect x="214.70" y="385.60" width="9.87" height="11.87" fill="#be8897" stroke="none" stroke-width="0" />
<rect x="224.56" y="385.60" width="9.87" height="11.87" fill="#d29c9c" stroke="none" stroke-width="0" />
<rect x="234.43" y="385.60" width="9.87" height="11.87" fill="#be8897" stroke="none" stroke-width="0" />
<rect x="244.30" y="385.60" width="9.87" height="11.87" fill="#be8897" stroke="none" stroke-width="0" />
<rect x="254.17" y="385.60" width="9.87" height="11.87" fill="#d29c9c" stroke="none" stroke-width="0" />
<rect x="264.04" y="385.60" width="9.87" height="11.87" fill="#be8897" stroke="none" stroke-width="0" />
<rect x="273.91" y="385.60" width="9.87" height="11.87" fill="#be8897" stroke="none" stroke-width="0" />
<rect x="283.78" y="385.60" width="9.87" height="11.87" fill="#d29c9c" stroke="none" stroke-width="0" />
<rect x="293.65" y="385.60" width="9.87" height="11.87" fill="#be8897" stroke="none" stroke-width="0" />
<rect x="303.51" y="385.60" width="9.87" height="11.87" fill="#be8897" stroke="none" stroke-width="0" />
<rect x="313.38" y="385.60" width="9.87" height="11.87" fill="#d29c9c" stroke="none" stroke-width="0" />
<rect x="323.25" y="385.60" width="9.87" height="11.87" fill="#be8897" stroke="none" stroke-width="0" />
<rect x="333.12" y="385.60" width="9.87" height="11.87" fill="#d29c9c" stroke="none" stroke-width="0" />
<rect x="342.99" y="385.60" width="9.87" height="11.87" fill="#be8897" stroke="none" stroke-width="0" />
<rect x="352.86" y="385.60" width="9.87" height="11.87" fill="#be8897" stroke="none" stroke-width="0" />
<rect x="362.73" y="385.60" width="9.87" height="11.87" fill="#be8897" stroke="none" stroke-width="0" />
<rect x="372.60" y="385.60" width="9.87" height="11.87" fill="#be8897" stroke="none" stroke-width="0" />
<rect x="382.47" y="385.60" width="9.87" height="11.87" fill="#be8897" stroke="none" stroke-width="0" />
<rect x="392.33" y="385.60" width="9.87" height="11.87" fill="#be8897" stroke="none" stroke-width="0" />
<rect x="402.20" y="385.60" width="9.87" height="11.87" fill="#be8897" stroke="none" stroke-width="0" />
<rect x="412.07" y="385.60" width="9.87" height="11.87" fill="#be8897" stroke="none" stroke-width="0" />
<rect x="421.94" y="385.60" width="9.87" height="11.87" fill="#be8897" stroke="none" stroke-width="0" />
<rect x="431.81" y="385.60" width="9.87" height="11.87" fill="#be8897" stroke="none" stroke-width="0" />
<rect x="441.68" y="385.60" width="9.87" height="11.87" fill="#be8897" stroke="none" stroke-width="0" />
<rect x="451.55" y="385.60" width="9.87" height="11.87" fill="#be8897" stroke="none" stroke-width="0" />
<rect x="461.42" y="385.60" width="9.87" height="11.87" fill="#be8897" stroke="none" stroke-width="0" />
<rect x="471.29" y="385.60" width="9.87" height="11.87" fill="#be8897" stroke="none" stroke-width="0" />
<rect x="481.15" y="385.60" width="9.87" height="11.87" fill="#be8897" stroke="none" stroke-width="0" />
<rect x="491.02" y="385.60" width="9.87" height="11.87" fill="#be8897" stroke="none" stroke-width="0" />
<rect x="500.89" y="385.60" width="9.87" height="11.87" fill="#be8897" stroke="none" stroke-width="0" />
<rect x="510.76" y="385.60" width="9.87" height="11.87" fill="#d29c9c" stroke="none" stroke-width="0" />
<rect x="520.63" y="385.60" width="9.87" height="11.87" fill="#be8897" stroke="none" stroke-width="0" />
<rect x="530.50" y="385.60" width="9.87" height="11.87" fill="#f5d0b6" stroke="none" stroke-width="0" />
<rect x="540.37" y="385.60" width="9.87" height="11.87" fill="#f5d0b6" stroke="none" stroke-width="0" />
<rect x="550.24" y="385.60" width="9.87" height="11.87" fill="#be8897" stroke="none" stroke-width="0" />
<rect x="560.10" y="385.60" width="9.87" height="11.87" fill="#be8897" stroke="none" stroke-width="0" />
<rect x="569.97" y="385.60" width="9.87" height="11.87" fill="#d29c9c" stroke="none" stroke-width="0" />
<rect x="579.84" y="385.60" width="9.87" height="11.87" fill="#be8897" stroke="none" stroke-width="0" />
<rect x="589.71" y="385.60" width="9.87" height="11.87" fill="#be8897" stroke="none" stroke-width="0" />
<rect x="599.58" y="385.60" width="9.87" height="11.87" fill="#be8897" stroke="none" stroke-width="0" />
<rect x="609.45" y="385.60" width="9.87" height="11.87" fill="#be8897" stroke="none" stroke-width="0" />
<rect x="619.32" y="385.60" width="9.87" height="11.87" fill="#be8897" stroke="none" stroke-width="0" />
<rect x="629.19" y="385.60" width="9.87" height="11.87" fill="#be8897" stroke="none" stroke-width="0" />
<rect x="639.06" y="385.60" width="9.87" height="11.87" fill="#d29c9c" stroke="none" stroke-width="0" />
<rect x="648.92" y="385.60" width="9.87" height="11.87" fill="#be8897" stroke="none" stroke-width="0" />
<rect x="658.79" y="385.60" width="9.87" height="11.87" fill="#be8897" stroke="none" stroke-width="0" />
<rect x="668.66" y="385.60" width="9.87" height="11.87" fill="#be8897" stroke="none" stroke-width="0" />
<rect x="678.53" y="385.60" width="9.87" height="11.87" fill="#be8897" stroke="none" stroke-width="0" />
<rect x="86.40" y="397.47" width="9.87" height="11.87" fill="#be8897" stroke="none" stroke-width="0" />
<rect x="96.27" y="397.47" width="9.87" height="11.87" fill="#d29c9c" stroke="none" stroke-width="0" />
<rect x="106.14" y="397.47" width="9.87" height="11.87" fill="#d29c9c" stroke="none" stroke-width="0" />
<rect x="116.01" y="397.47" width="9.87" height="11.87" fill="#737373" stroke="none" stroke-width="0" />
<rect x="125.88" y="397.47" width="9.87" height="11.87" fill="#737373" stroke="none" stroke-width="0" />
<rect x="135.74" y="397.47" width="9.87" height="11.87" fill="#737373" stroke="none" stroke-width="0" />
<rect x="145.61" y="397.47" width="9.87" height="11.87" fill="#be8897" stroke="none" stroke-width="0" />
<rect x="155.48" y="397.47" width="9.87" height="11.87" fill="#f5d0b6" stroke="none" stroke-width="0" />
<rect x="165.35" y="397.47" width="9.87" height="11.87" fill="#d29c9c" stroke="none" stroke-width="0" />
<rect x="175.22" y="397.47" width="9.87" height="11.87" fill="#d29c9c" stroke="none" stroke-width="0" />
<rect x="185.09" y="397.47" width="9.87" height="11.87" fill="#be8897" stroke="none" stroke-width="0" />
<rect x="194.96" y="397.47" width="9.87" height="11.87" fill="#be8897" stroke="none" stroke-width="0" />
<rect x="204.83" y="397.47" width="9.87" height="11.87" fill="#d29c9c" stroke="none" stroke-width="0" />
<rect x="214.70" y="397.47" width="9.87" height="11.87" fill="#be8897" stroke="none" stroke-width="0" />
<rect x="224.56" y="397.47" width="9.87" height="11.87" fill="#be8897" stroke="none" stroke-width="0" />
<rect x="234.43" y="397.47" width="9.87" height="11.87" fill="#be8897" stroke="none" stroke-width="0" />
<rect x="244.30" y="397.47" width="9.87" height="11.87" fill="#be8897" stroke="none" stroke-width="0" />
<rect x="254.17" y="397.47" width="9.87" height="11.87" fill="#d29c9c" stroke="none" stroke-width="0" />
<rect x="264.04" y="397.47" width="9.87" height="11.87" fill="#be8897" stroke="none" stroke-width="0" />
<rect x="273.91" y="397.47" width="9.87" height="11.87" fill="#be8897" stroke="none" stroke-width="0" />
<rect x="283.78" y="397.47" width="9.87" height="11.87" fill="#d29c9c" stroke="none" stroke-width="0" />
<rect x="293.65" y="397.47" width="9.87" height="11.87" fill="#be8897" stroke="none" stroke-width="0" />
<rect x="303.51" y="397.47" width="9.87" height="11.87" fill="#be8897" stroke="none" stroke-width="0" />
<rect x="313.38" y="397.47" width="9.87" height="11.87" fill="#d29c9c" stroke="none" stroke-width="0" />
<rect x="323.25" y="397.47" width="9.87" height="11.87" fill="#be8897" stroke="none" stroke-width="0" />
<rect x="333.12" y="397.47" width="9.87" height="11.87" fill="#f5d0b6" stroke="none" stroke-width="0" />
<rect x="342.99" y="397.47" width="9.87" height="11.87" fill="#be8897" stroke="none" stroke-width="0" />
<rect x="352.86" y="397.47" width="9.87" height="11.87" fill="#be8897" stroke="none" stroke-width="0" />
<rect x="362.73" y="397.47" width="9.87" height="11.87" fill="#be8897" stroke="none" stroke-width="0" />
<rect x="372.60" y="397.47" width="9.87" height="11.87" fill="#be8897" stroke="none" stroke-width="0" />
<rect x="382.47" y="397.47" width="9.87" height="11.87" fill="#be8897" stroke="none" stroke-width="0" />
<rect x="392.33" y="397.47" width="9.87" height="11.87" fill="#be8897" stroke="none" stroke-width="0" />
<rect x="402.20" y="397.47" width="9.87" height="11.87" fill="#be8897" stroke="none" stroke-width="0" />
<rect x="412.07" y="397.47" width="9.87" height="11.87" fill="#be8897" stroke="none" stroke-width="0" />
<rect x="421.94" y="397.47" width="9.87" height="11.87" fill="#be8897" stroke="none" stroke-width="0" />
<rect x="431.81" y="397.47" width="9.87" height="11.87" fill="#be8897" stroke="none" stroke-width="0" />
<rect x="441.68" y="397.47" width="9.87" height="11.87" fill="#be8897" stroke="none" stroke-width="0" />
<rect x="451.55" y="397.47" width="9.87" height="11.87" fill="#be8897" stroke="none" stroke-width="0" />
<rect x="461.42" y="397.47" width="9.87" height="11.87" fill="#be8897" stroke="none" stroke-width="0" />
<rect x="471.29" y="397.47" width="9.87" height="11.87" fill="#be8897" stroke="none" stroke-width="0" />
<rect x="481.15" y="397.47" width="9.87" height="11.87" fill="#be8897" stroke="none" stroke-width="0" />
<rect x="491.02" y="397.47" width="9.87" height="11.87" fill="#be8897" stroke="none" stroke-width="0" />
<rect x="500.89" y="397.47" width="9.87" height="11.87" fill="#be8897" stroke="none" stroke-width="0" />
<rect x="510.76" y="397.47" width="9.87" height="11.87" fill="#d29c9c" stroke="none" stroke-width="0" />
<rect x="520.63" y="397.47" width="9.87" height="11.87" fill="#be8897" stroke="none" stroke-width="0" />
<rect x="530.50" y="397.47" width="9.87" height="11.87" fill="#f5d0b6" stroke="none" stroke-width="0" />
<rect x="540.37" y="397.47" width="9.87" height="11.87" fill="#f5d0b6" stroke="none" stroke-width="0" />
<rect x="550.24" y="397.47" width="9.87" height="11.87" fill="#be8897" stroke="none" stroke-width="0" />
<rect x="560.10" y="397.47" width="9.87" height="11.87" fill="#be8897" stroke="none" stroke-width="0" />
<rect x="569.97" y="397.47" width="9.87" height="11.87" fill="#d29c9c" stroke="none" stroke-width="0" />
<rect x="579.84" y="397.47" width="9.87" height="11.87" fill="#be8897" stroke="none" stroke-width="0" />
<rect x="589.71" y="397.47" width="9.87" height="11.87" fill="#be8897" stroke="none" stroke-width="0" />
<rect x="599.58" y="397.47" width="9.87" height="11.87" fill="#be8897" stroke="none" stroke-width="0" />
<rect x="609.45" y="397.47" width="9.87" height="11.87" fill="#be8897" stroke="none" stroke-width="0" />
<rect x="619.32" y="397.47" width="9.87" height="11.87" fill="#be8897" stroke="none" stroke-width="0" />
<rect x="629.19" y="397.47" width="9.87" height="11.87" fill="#be8897" stroke="none" stroke-width="0" />
<rect x="639.06" y="397.47" width="9.87" height="11.87" fill="#d29c9c" stroke="none" stroke-width="0" />
<rect x="648.92" y="397.47" width="9.87" height="11.87" fill="#be8897" stroke="none" stroke-width="0" />
<rect x="658.79" y="397.47" width="9.87" height="11.87" fill="#be8897" stroke="none" stroke-width="0" />
<rect x="668.66" y="397.47" width="9.87" height="11.87" fill="#be8897" stroke="none" stroke-width="0" />
<rect x="678.53" y="397.47" width="9.87" height="11.87" fill="#be8897" stroke="none" stroke-width="0" />
<rect x="86.40" y="409.33" width="9.87" height="11.87" fill="#be8897" stroke="none" stroke-width="0" />
<rect x="96.27" y="409.33" width="9.87" height="11.87" fill="#d29c9c" stroke="none" stroke-width="0" />
<rect x="106.14" y="409.33" width="9.87" height="11.87" fill="#d29c9c" stroke="none" stroke-width="0" />
<rect x="116.01" y="409.33" width="9.87" height="11.87" fill="#737373" stroke="none" stroke-width="0" />
<rect x="125.88" y="409.33" width="9.87" height="11.87" fill="#737373" stroke="none" stroke-width="0" />
<rect x="135.74" y="409.33" width="9.87" height="11.87" fill="#737373" stroke="none" stroke-width="0" />
<rect x="145.61" y="409.33" width="9.87" height="11.87" fill="#be8897" stroke="none" stroke-width="0" />
<rect x="155.48" y="409.33" width="9.87" height="11.87" fill="#f5d0b6" stroke="none" stroke-width="0" />
<rect x="165.35" y="409.33" width="9.87" height="11.87" fill="#d29c9c" stroke="none" stroke-width="0" />
<rect x="175.22" y="409.33" width="9.87" height="11.87" fill="#d29c9c" stroke="none" stroke-width="0" />
<rect x="185.09" y="409.33" width="9.87" height="11.87" fill="#be8897" stroke="none" stroke-width="0" />
<rect x="194.96" y="409.33" width="9.87" height="11.87" fill="#be8897" stroke="none" stroke-width="0" />
<rect x="204.83" y="409.33" width="9.87" height="11.87" fill="#d29c9c" stroke="none" stroke-width="0" />
<rect x="214.70" y="409.33" width="9.87" height="11.87" fill="#be8897" stroke="none" stroke-width="0" />
<rect x="224.56" y="409.33" width="9.87" height="11.87" fill="#d29c9c" stroke="none" stroke-width="0" />
<rect x="234.43" y="409.33" width="9.87" height="11.87" fill="#be8897" stroke="none" stroke-width="0" />
<rect x="244.30" y="409.33" width="9.87" height="11.87" fill="#be8897" stroke="none" stroke-width="0" />
<rect x="254.17" y="409.33" width="9.87" height="11.87" fill="#d29c9c" stroke="none" stroke-width="0" />
<rect x="264.04" y="409.33" width="9.87" height="11.87" fill="#be8897" stroke="none" stroke-width="0" />
<rect x="273.91" y="409.33" width="9.87" height="11.87" fill="#be8897" stroke="none" stroke-width="0" />
<rect x="283.78" y="409.33" width="9.87" height="11.87" fill="#d29c9c" stroke="none" stroke-width="0" />
<rect x="293.65" y="409.33" width="9.87" height="11.87" fill="#be8897" stroke="none" stroke-width="0" />
<rect x="303.51" y="409.33" width="9.87" height="11.87" fill="#be8897" stroke="none" stroke-width="0" />
<rect x="313.38" y="409.33" width="9.87" height="11.87" fill="#d29c9c" stroke="none" stroke-width="0" />
<rect x="323.25" y="409.33" width="9.87" height="11.87" fill="#be8897" stroke="none" stroke-width="0" />
<rect x="333.12" y="409.33" width="9.87" height="11.87" fill="#f5d0b6" stroke="none" stroke-width="0" />
<rect x="342.99" y="409.33" width="9.87" height="11.87" fill="#be8897" stroke="none" stroke-width="0" />
<rect x="352.86" y="409.33" width="9.87" height="11.87" fill="#be8897" stroke="none" stroke-width="0" />
<rect x="362.73" y="409.33" width="9.87" height="11.87" fill="#be8897" stroke="none" stroke-width="0" />
<rect x="372.60" y="409.33" width="9.87" height="11.87" fill="#be8897" stroke="none" stroke-width="0" />
<rect x="382.47" y="409.33" width="9.87" height="11.87" fill="#be8897" stroke="none" stroke-width="0" />
<rect x="392.33" y="409.33" width="9.87" height="11.87" fill="#be8897" stroke="none" stroke-width="0" />
<rect x="402.20" y="409.33" width="9.87" height="11.87" fill="#be8897" stroke="none" stroke-width="0" />
<rect x="412.07" y="409.33" width="9.87" height="11.87" fill="#be8897" stroke="none" stroke-width="0" />
<rect x="421.94" y="409.33" width="9.87" height="11.87" fill="#be8897" stroke="none" stroke-width="0" />
<rect x="431.81" y="409.33" width="9.87" height="11.87" fill="#be8897" stroke="none" stroke-width="0" />
<rect x="441.68" y="409.33" width="9.87" height="11.87" fill="#be8897" stroke="none" stroke-width="0" />
<rect x="451.55" y="409.33" width="9.87" height="11.87" fill="#be8897" stroke="none" stroke-width="0" />
<rect x="461.42" y="409.33" width="9.87" height="11.87" fill="#be8897" stroke="none" stroke-width="0" />
<rect x="471.29" y="409.33" width="9.87" height="11.87" fill="#be8897" stroke="none" stroke-width="0" />
<rect x="481.15" y="409.33" width="9.87" height="11.87" fill="#be8897" stroke="none" stroke-width="0" />
<rect x="491.02" y="409.33" width="9.87" height="11.87" fill="#be8897" stroke="none" stroke-width="0" />
<rect x="500.89" y="409.33" width="9.87" height="11.87" fill="#be8897" stroke="none" stroke-width="0" />
<rect x="510.76" y="409.33" width="9.87" height="11.87" fill="#d29c9c" stroke="none" stroke-width="0" />
<rect x="520.63" y="409.33" width="9.87" height="11.87" fill="#be8897" stroke="none" stroke-width="0" />
<rect x="530.50" y="409.33" width="9.87" height="11.87" fill="#f5d0b6" stroke="none" stroke-width="0" />
<rect x="540.37" y="409.33" width="9.87" height="11.87" fill="#f5d0b6" stroke="none" stroke-width="0" />
<rect x="550.24" y="409.33" width="9.87" height="11.87" fill="#be8897" stroke="none" stroke-width="0" />
<rect x="560.10" y="409.33" width="9.87" height="11.87" fill="#be8897" stroke="none" stroke-width="0" />
<rect x="569.97" y="409.33" width="9.87" height="11.87" fill="#d29c9c" stroke="none" stroke-width="0" />
<rect x="579.84" y="409.33" width="9.87" height="11.87" fill="#be8897" stroke="none" stroke-width="0" />
<rect x="589.71" y="409.33" width="9.87" height="11.87" fill="#be8897" stroke="none" stroke-width="0" />
<rect x="599.58" y="409.33" width="9.87" height="11.87" fill="#be8897" stroke="none" stroke-width="0" />
<rect x="609.45" y="409.33" width="9.87" height="11.87" fill="#be8897" stroke="none" stroke-width="0" />
<rect x="619.32" y="409.33" width="9.87" height="11.87" fill="#be8897" stroke="none" stroke-width="0" />
<rect x="629.19" y="409.33" width="9.87" height="11.87" fill="#be8897" stroke="none" stroke-width="0" />
<rect x="639.06" y="409.33" width="9.87" height="11.87" fill="#d29c9c" stroke="none" stroke-width="0" />
<rect x="648.92" y="409.33" width="9.87" height="11.87" fill="#be8897" stroke="none" stroke-width="0" />
<rect x="658.79" y="409.33" width="9.87" height="11.87" fill="#d29c9c" stroke="none" stroke-width="0" />
<rect x="668.66" y="409.33" width="9.87" height="11.87" fill="#be8897" stroke="none" stroke-width="0" />
<rect x="678.53" y="409.33" width="9.87" height="11.87" fill="#be8897" stroke="none" stroke-width="0" />
<line x1="86.40" y1="278.80" x2="86.40" y2="421.20" stroke="#2e1a1e" stroke-width="1.0" />
<line x1="96.27" y1="278.80" x2="96.27" y2="421.20" stroke="#2e1a1e" stroke-width="1.0" />
<line x1="106.14" y1="278.80" x2="106.14" y2="421.20" stroke="#2e1a1e" stroke-width="1.0" />
<line x1="116.01" y1="278.80" x2="116.01" y2="421.20" stroke="#2e1a1e" stroke-width="1.0" />
<line x1="125.88" y1="278.80" x2="125.88" y2="421.20" stroke="#2e1a1e" stroke-width="1.0" />
<line x1="135.74" y1="278.80" x2="135.74" y2="421.20" stroke="#2e1a1e" stroke-width="1.0" />
<line x1="145.61" y1="278.80" x2="145.61" y2="421.20" stroke="#2e1a1e" stroke-width="1.0" />
<line x1="155.48" y1="278.80" x2="155.48" y2="421.20" stroke="#2e1a1e" stroke-width="1.0" />
<line x1="165.35" y1="278.80" x2="165.35" y2="421.20" stroke="#2e1a1e" stroke-width="1.0" />
<line x1="175.22" y1="278.80" x2="175.22" y2="421.20" stroke="#2e1a1e" stroke-width="1.0" />
<line x1="185.09" y1="278.80" x2="185.09" y2="421.20" stroke="#2e1a1e" stroke-width="1.0" />
<line x1="194.96" y1="278.80" x2="194.96" y2="421.20" stroke="#2e1a1e" stroke-width="1.0" />
<line x1="204.83" y1="278.80" x2="204.83" y2="421.20" stroke="#2e1a1e" stroke-width="1.0" />
<line x1="214.70" y1="278.80" x2="214.70" y2="421.20" stroke="#2e1a1e" stroke-width="1.0" />
<line x1="224.56" y1="278.80" x2="224.56" y2="421.20" stroke="#2e1a1e" stroke-width="1.0" />
<line x1="234.43" y1="278.80" x2="234.43" y2="421.20" stroke="#2e1a1e" stroke-width="1.0" />
<line x1="244.30" y1="278.80" x2="244.30" y2="421.20" stroke="#2e1a1e" stroke-width="1.0" />
<line x1="254.17" y1="278.80" x2="254.17" y2="421.20" stroke="#2e1a1e" stroke-width="1.0" />
<line x1="264.04" y1="278.80" x2="264.04" y2="421.20" stroke="#2e1a1e" stroke-width="1.0" />
<line x1="273.91" y1="278.80" x2="273.91" y2="421.20" stroke="#2e1a1e" stroke-width="1.0" />
<line x1="283.78" y1="278.80" x2="283.78" y2="421.20" stroke="#2e1a1e" stroke-width="1.0" />
<line x1="293.65" y1="278.80" x2="293.65" y2="421.20" stroke="#2e1a1e" stroke-width="1.0" />
<line x1="303.51" y1="278.80" x2="303.51" y2="421.20" stroke="#2e1a1e" stroke-width="1.0" />
<line x1="313.38" y1="278.80" x2="313.38" y2="421.20" stroke="#2e1a1e" stroke-width="1.0" />
<line x1="323.25" y1="278.80" x2="323.25" y2="421.20" stroke="#2e1a1e" stroke-width="1.0" />
<line x1="333.12" y1="278.80" x2="333.12" y2="421.20" stroke="#2e1a1e" stroke-width="1.0" />
<line x1="342.99" y1="278.80" x2="342.99" y2="421.20" stroke="#2e1a1e" stroke-width="1.0" />
<line x1="352.86" y1="278.80" x2="352.86" y2="421.20" stroke="#2e1a1e" stroke-width="1.0" />
<line x1="362.73" y1="278.80" x2="362.73" y2="421.20" stroke="#2e1a1e" stroke-width="1.0" />
<line x1="372.60" y1="278.80" x2="372.60" y2="421.20" stroke="#2e1a1e" stroke-width="1.0" />
<line x1="382.47" y1="278.80" x2="382.47" y2="421.20" stroke="#2e1a1e" stroke-width="1.0" />
<line x1="392.33" y1="278.80" x2="392.33" y2="421.20" stroke="#2e1a1e" stroke-width="1.0" />
<line x1="402.20" y1="278.80" x2="402.20" y2="421.20" stroke="#2e1a1e" stroke-width="1.0" />
<line x1="412.07" y1="278.80" x2="412.07" y2="421.20" stroke="#2e1a1e" stroke-width="1.0" />
<line x1="421.94" y1="278.80" x2="421.94" y2="421.20" stroke="#2e1a1e" stroke-width="1.0" />
<line x1="431.81" y1="278.80" x2="431.81" y2="421.20" stroke="#2e1a1e" stroke-width="1.0" />
<line x1="441.68" y1="278.80" x2="441.68" y2="421.20" stroke="#2e1a1e" stroke-width="1.0" />
<line x1="451.55" y1="278.80" x2="451.55" y2="421.20" stroke="#2e1a1e" stroke-width="1.0" />
<line x1="461.42" y1="278.80" x2="461.42" y2="421.20" stroke="#2e1a1e" stroke-width="1.0" />
<line x1="471.29" y1="278.80" x2="471.29" y2="421.20" stroke="#2e1a1e" stroke-width="1.0" />
<line x1="481.15" y1="278.80" x2="481.15" y2="421.20" stroke="#2e1a1e" stroke-width="1.0" />
<line x1="491.02" y1="278.80" x2="491.02" y2="421.20" stroke="#2e1a1e" stroke-width="1.0" />
<line x1="500.89" y1="278.80" x2="500.89" y2="421.20" stroke="#2e1a1e" stroke-width="1.0" />
<line x1="510.76" y1="278.80" x2="510.76" y2="421.20" stroke="#2e1a1e" stroke-width="1.0" />
<line x1="520.63" y1="278.80" x2="520.63" y2="421.20" stroke="#2e1a1e" stroke-width="1.0" />
<line x1="530.50" y1="278.80" x2="530.50" y2="421.20" stroke="#2e1a1e" stroke-width="1.0" />
<line x1="540.37" y1="278.80" x2="540.37" y2="421.20" stroke="#2e1a1e" stroke-width="1.0" />
<line x1="550.24" y1="278.80" x2="550.24" y2="421.20" stroke="#2e1a1e" stroke-width="1.0" />
<line x1="560.10" y1="278.80" x2="560.10" y2="421.20" stroke="#2e1a1e" stroke-width="1.0" />
<line x1="569.97" y1="278.80" x2="569.97" y2="421.20" stroke="#2e1a1e" stroke-width="1.0" />
<line x1="579.84" y1="278.80" x2="579.84" y2="421.20" stroke="#2e1a1e" stroke-width="1.0" />
<line x1="589.71" y1="278.80" x2="589.71" y2="421.20" stroke="#2e1a1e" stroke-width="1.0" />
<line x1="599.58" y1="278.80" x2="599.58" y2="421.20" stroke="#2e1a1e" stroke-width="1.0" />
<line x1="609.45" y1="278.80" x2="609.45" y2="421.20" stroke="#2e1a1e" stroke-width="1.0" />
<line x1="619.32" y1="278.80" x2="619.32" y2="421.20" stroke="#2e1a1e" stroke-width="1.0" />
<line x1="629.19" y1="278.80" x2="629.19" y2="421.20" stroke="#2e1a1e" stroke-width="1.0" />
<line x1="639.06" y1="278.80" x2="639.06" y2="421.20" stroke="#2e1a1e" stroke-width="1.0" />
<line x1="648.92" y1="278.80" x2="648.92" y2="421.20" stroke="#2e1a1e" stroke-width="1.0" />
<line x1="658.79" y1="278.80" x2="658.79" y2="421.20" stroke="#2e1a1e" stroke-width="1.0" />
<line x1="668.66" y1="278.80" x2="668.66" y2="421.20" stroke="#2e1a1e" stroke-width="1.0" />
<line x1="678.53" y1="278.80" x2="678.53" y2="421.20" stroke="#2e1a1e" stroke-width="1.0" />
<line x1="688.40" y1="278.80" x2="688.40" y2="421.20" stroke="#2e1a1e" stroke-width="1.0" />
<line x1="86.40" y1="278.80" x2="688.40" y2="278.80" stroke="#2e1a1e" stroke-width="1.0" />
<line x1="86.40" y1="290.67" x2="688.40" y2="290.67" stroke="#2e1a1e" stroke-width="1.0" />
<line x1="86.40" y1="302.53" x2="688.40" y2="302.53" stroke="#2e1a1e" stroke-width="1.0" />
<line x1="86.40" y1="314.40" x2="688.40" y2="314.40" stroke="#2e1a1e" stroke-width="1.0" />
<line x1="86.40" y1="326.27" x2="688.40" y2="326.27" stroke="#2e1a1e" stroke-width="1.0" />
<line x1="86.40" y1="338.13" x2="688.40" y2="338.13" stroke="#2e1a1e" stroke-width="1.0" />
<line x1="86.40" y1="350.00" x2="688.40" y2="350.00" stroke="#2e1a1e" stroke-width="1.0" />
<line x1="86.40" y1="361.87" x2="688.40" y2="361.87" stroke="#2e1a1e" stroke-width="1.0" />
<line x1="86.40" y1="373.73" x2="688.40" y2="373.73" stroke="#2e1a1e" stroke-width="1.0" />
<line x1="86.40" y1="385.60" x2="688.40" y2="385.60" stroke="#2e1a1e" stroke-width="1.0" />
<line x1="86.40" y1="397.47" x2="688.40" y2="397.47" stroke="#2e1a1e" stroke-width="1.0" />
<line x1="86.40" y1="409.33" x2="688.40" y2="409.33" stroke="#2e1a1e" stroke-width="1.0" />
<line x1="86.40" y1="421.20" x2="688.40" y2="421.20" stroke="#2e1a1e" stroke-width="1.0" />
<rect x="86.40" y="421.90" width="29.61" height="6.80" fill="#c052aa" stroke="none" stroke-width="0" />
<rect x="145.61" y="421.90" width="9.87" height="6.80" fill="#c052aa" stroke="none" stroke-width="0" />
<rect x="165.35" y="421.90" width="148.03" height="6.80" fill="#c052aa" stroke="none" stroke-width="0" />
<rect x="323.25" y="421.90" width="39.48" height="6.80" fill="#c052aa" stroke="none" stroke-width="0" />
<rect x="372.60" y="421.90" width="29.61" height="6.80" fill="#c052aa" stroke="none" stroke-width="0" />
<rect x="412.07" y="421.90" width="19.74" height="6.80" fill="#c052aa" stroke="none" stroke-width="0" />
<rect x="441.68" y="421.90" width="19.74" height="6.80" fill="#c052aa" stroke="none" stroke-width="0" />
<rect x="471.29" y="421.90" width="78.95" height="6.80" fill="#c052aa" stroke="none" stroke-width="0" />
<rect x="569.97" y="421.90" width="19.74" height="6.80" fill="#c052aa" stroke="none" stroke-width="0" />
<rect x="658.79" y="421.90" width="9.87" height="6.80" fill="#c052aa" stroke="none" stroke-width="0" />
<rect x="362.73" y="428.70" width="9.87" height="7.60" fill="#50688f" stroke="none" stroke-width="0" />
<rect x="431.81" y="428.70" width="9.87" height="7.60" fill="#50688f" stroke="none" stroke-width="0" />
<rect x="560.10" y="428.70" width="9.87" height="7.60" fill="#50688f" stroke="none" stroke-width="0" />
<rect x="589.71" y="428.70" width="19.74" height="7.60" fill="#50688f" stroke="none" stroke-width="0" />
<rect x="619.32" y="428.70" width="29.61" height="7.60" fill="#50688f" stroke="none" stroke-width="0" />
<rect x="668.66" y="428.70" width="19.74" height="7.60" fill="#50688f" stroke="none" stroke-width="0" />
<line x1="86.40" y1="428.70" x2="688.40" y2="428.70" stroke="#cccccc" stroke-width="0.6" />
<line x1="86.40" y1="436.30" x2="688.40" y2="436.30" stroke="#666" stroke-width="0.8" />
<line x1="86.40" y1="421.90" x2="86.40" y2="445.00" stroke="#444" stroke-width="1" />
<line x1="116.01" y1="428.70" x2="116.01" y2="445.00" stroke="#444" stroke-width="1" />
<line x1="145.61" y1="428.70" x2="145.61" y2="445.00" stroke="#444" stroke-width="1" />
<line x1="194.96" y1="428.70" x2="194.96" y2="445.00" stroke="#444" stroke-width="1" />
<line x1="224.56" y1="428.70" x2="224.56" y2="445.00" stroke="#444" stroke-width="1" />
<line x1="323.25" y1="428.70" x2="323.25" y2="445.00" stroke="#444" stroke-width="1" />
<line x1="352.86" y1="428.70" x2="352.86" y2="445.00" stroke="#444" stroke-width="1" />
<line x1="441.68" y1="428.70" x2="441.68" y2="445.00" stroke="#444" stroke-width="1" />
<line x1="560.10" y1="428.70" x2="560.10" y2="445.00" stroke="#444" stroke-width="1" />
<line x1="688.40" y1="421.90" x2="688.40" y2="445.00" stroke="#444" stroke-width="1" />
<text x="98.4" y="455.09" font-size="9.7" text-anchor="middle" fill="#a97bc4" transform="rotate(-35 98.4 451.6)">pMMO</text>
<text x="128.3" y="453.89" font-size="9.7" text-anchor="middle" fill="#111" transform="rotate(-35 128.3 450.4)">sMMO</text>
<text transform="translate(169.80,448.89) scale(0.9615,1)" x="0" y="0" font-size="10.09" text-anchor="middle" font-weight="normal" font-style="normal" fill="#a97bc4" >MeOH</text>
<text transform="translate(169.80,461.09) scale(0.9615,1)" x="0" y="0" font-size="10.09" text-anchor="middle" font-weight="normal" font-style="normal" fill="#a97bc4" >dehydrogenase</text>
<text transform="translate(209.40,448.89) scale(0.9615,1)" x="0" y="0" font-size="10.09" text-anchor="middle" font-weight="normal" font-style="normal" fill="#a97bc4" >PQQ</text>
<text transform="translate(273.20,449.19) scale(0.9615,1)" x="0" y="0" font-size="10.09" text-anchor="middle" font-weight="normal" font-style="normal" fill="#a97bc4" >H4MPT pathway</text>
<text transform="translate(338.10,449.19) scale(0.9615,1)" x="0" y="0" font-size="10.09" text-anchor="middle" font-weight="normal" font-style="normal" fill="#a97bc4" >H4F</text>
<text transform="translate(338.10,460.59) scale(0.9615,1)" x="0" y="0" font-size="10.09" text-anchor="middle" font-weight="normal" font-style="normal" fill="#a97bc4" >pathway</text>
<text transform="translate(398.30,449.19) scale(0.9615,1)" x="0" y="0" font-size="10.09" text-anchor="middle" font-weight="normal" font-style="normal" fill="#111" >Serine cycle</text>
<text transform="translate(500.40,449.19) scale(0.9615,1)" x="0" y="0" font-size="10.09" text-anchor="middle" font-weight="normal" font-style="normal" fill="#a97bc4" >TCA cycle</text>
<text transform="translate(622.50,449.19) scale(0.9615,1)" x="0" y="0" font-size="10.09" text-anchor="middle" font-weight="normal" font-style="normal" fill="#111" >EMC pathway</text>
<text transform="translate(622.50,460.59) scale(0.9615,1)" x="0" y="0" font-size="10.09" text-anchor="middle" font-weight="normal" font-style="normal" fill="#111" >&amp; PHA biosynthesis</text>
<text x="90.83" y="275.0" font-size="8.9" font-style="italic" fill="#111" transform="rotate(-48 90.83 275.0)">pmoB</text>
<text x="100.70" y="275.0" font-size="8.9" font-style="italic" fill="#111" transform="rotate(-48 100.70 275.0)">pmoA</text>
<text x="110.57" y="275.0" font-size="8.9" font-style="italic" fill="#111" transform="rotate(-48 110.57 275.0)">pmoC</text>
<text x="120.44" y="275.0" font-size="8.9" font-style="italic" fill="#111" transform="rotate(-48 120.44 275.0)">mmoX</text>
<text x="130.31" y="275.0" font-size="8.9" font-style="italic" fill="#111" transform="rotate(-48 130.31 275.0)">mmoY</text>
<text x="140.18" y="275.0" font-size="8.9" font-style="italic" fill="#111" transform="rotate(-48 140.18 275.0)">mmoZ</text>
<text x="150.05" y="275.0" font-size="8.9" font-style="italic" fill="#111" transform="rotate(-48 150.05 275.0)">xoxF</text>
<text x="159.92" y="275.0" font-size="8.9" font-style="italic" fill="#111" transform="rotate(-48 159.92 275.0)">mxaI</text>
<text x="169.79" y="275.0" font-size="8.9" font-style="italic" fill="#111" transform="rotate(-48 169.79 275.0)">mxaG</text>
<text x="179.65" y="275.0" font-size="8.9" font-style="italic" fill="#111" transform="rotate(-48 179.65 275.0)">mxaJ</text>
<text x="189.52" y="275.0" font-size="8.9" font-style="italic" fill="#111" transform="rotate(-48 189.52 275.0)">mxaF</text>
<text x="199.39" y="275.0" font-size="8.9" font-style="italic" fill="#111" transform="rotate(-48 199.39 275.0)">pqqB</text>
<text x="209.26" y="275.0" font-size="8.9" font-style="italic" fill="#111" transform="rotate(-48 209.26 275.0)">pqqC</text>
<text x="219.13" y="275.0" font-size="8.9" font-style="italic" fill="#111" transform="rotate(-48 219.13 275.0)">pqqE</text>
<text x="229.00" y="275.0" font-size="8.9" font-style="italic" fill="#111" transform="rotate(-48 229.00 275.0)">fae4</text>
<text x="238.87" y="275.0" font-size="8.9" font-style="italic" fill="#111" transform="rotate(-48 238.87 275.0)">mtdB</text>
<text x="248.74" y="275.0" font-size="8.9" font-style="italic" fill="#111" transform="rotate(-48 248.74 275.0)">mch</text>
<text x="258.60" y="275.0" font-size="8.9" font-style="italic" fill="#111" transform="rotate(-48 258.60 275.0)">fhcB</text>
<text x="268.47" y="275.0" font-size="8.9" font-style="italic" fill="#111" transform="rotate(-48 268.47 275.0)">fhcA1</text>
<text x="278.34" y="275.0" font-size="8.9" font-style="italic" fill="#111" transform="rotate(-48 278.34 275.0)">fhcD</text>
<text x="288.21" y="275.0" font-size="8.9" font-style="italic" fill="#111" transform="rotate(-48 288.21 275.0)">fhcC</text>
<text x="298.08" y="275.0" font-size="8.9" font-style="italic" fill="#111" transform="rotate(-48 298.08 275.0)">fdsA</text>
<text x="307.95" y="275.0" font-size="8.9" font-style="italic" fill="#111" transform="rotate(-48 307.95 275.0)">fdsB</text>
<text x="317.82" y="275.0" font-size="8.9" font-style="italic" fill="#111" transform="rotate(-48 317.82 275.0)">fdsG</text>
<text x="327.69" y="275.0" font-size="8.9" font-style="italic" fill="#111" transform="rotate(-48 327.69 275.0)">fhs</text>
<text x="337.56" y="275.0" font-size="8.9" font-style="italic" fill="#111" transform="rotate(-48 337.56 275.0)">mthfc</text>
<text x="347.42" y="275.0" font-size="8.9" font-style="italic" fill="#111" transform="rotate(-48 347.42 275.0)">mthfd</text>
<text x="357.29" y="275.0" font-size="8.9" font-style="italic" fill="#111" transform="rotate(-48 357.29 275.0)">sga</text>
<text x="367.16" y="275.0" font-size="8.9" font-style="italic" fill="#111" transform="rotate(-48 367.16 275.0)">hprA</text>
<text x="377.03" y="275.0" font-size="8.9" font-style="italic" fill="#111" transform="rotate(-48 377.03 275.0)">mtkA</text>
<text x="386.90" y="275.0" font-size="8.9" font-style="italic" fill="#111" transform="rotate(-48 386.90 275.0)">mtkB</text>
<text x="396.77" y="275.0" font-size="8.9" font-style="italic" fill="#111" transform="rotate(-48 396.77 275.0)">mclA</text>
<text x="406.64" y="275.0" font-size="8.9" font-style="italic" fill="#111" transform="rotate(-48 406.64 275.0)">gckA</text>
<text x="416.51" y="275.0" font-size="8.9" font-style="italic" fill="#111" transform="rotate(-48 416.51 275.0)">glyA</text>
<text x="426.38" y="275.0" font-size="8.9" font-style="italic" fill="#111" transform="rotate(-48 426.38 275.0)">eno</text>
<text x="436.24" y="275.0" font-size="8.9" font-style="italic" fill="#111" transform="rotate(-48 436.24 275.0)">ppc2</text>
<text x="446.11" y="275.0" font-size="8.9" font-style="italic" fill="#111" transform="rotate(-48 446.11 275.0)">mdh</text>
<text x="455.98" y="275.0" font-size="8.9" font-style="italic" fill="#111" transform="rotate(-48 455.98 275.0)">gltA</text>
<text x="465.85" y="275.0" font-size="8.9" font-style="italic" fill="#111" transform="rotate(-48 465.85 275.0)">acnA</text>
<text x="475.72" y="275.0" font-size="8.9" font-style="italic" fill="#111" transform="rotate(-48 475.72 275.0)">sucB</text>
<text x="485.59" y="275.0" font-size="8.9" font-style="italic" fill="#111" transform="rotate(-48 485.59 275.0)">sucA</text>
<text x="495.46" y="275.0" font-size="8.9" font-style="italic" fill="#111" transform="rotate(-48 495.46 275.0)">sucD</text>
<text x="505.33" y="275.0" font-size="8.9" font-style="italic" fill="#111" transform="rotate(-48 505.33 275.0)">sucC</text>
<text x="515.20" y="275.0" font-size="8.9" font-style="italic" fill="#111" transform="rotate(-48 515.20 275.0)">sdhB</text>
<text x="525.06" y="275.0" font-size="8.9" font-style="italic" fill="#111" transform="rotate(-48 525.06 275.0)">sdhA</text>
<text x="534.93" y="275.0" font-size="8.9" font-style="italic" fill="#111" transform="rotate(-48 534.93 275.0)">sdhD</text>
<text x="544.80" y="275.0" font-size="8.9" font-style="italic" fill="#111" transform="rotate(-48 544.80 275.0)">sdhC</text>
<text x="554.67" y="275.0" font-size="8.9" font-style="italic" fill="#111" transform="rotate(-48 554.67 275.0)">fum</text>
<text x="564.54" y="275.0" font-size="8.9" font-style="italic" fill="#111" transform="rotate(-48 564.54 275.0)">scpA</text>
<text x="574.41" y="275.0" font-size="8.9" font-style="italic" fill="#111" transform="rotate(-48 574.41 275.0)">mce</text>
<text x="584.28" y="275.0" font-size="8.9" font-style="italic" fill="#111" transform="rotate(-48 584.28 275.0)">pccA</text>
<text x="594.15" y="275.0" font-size="8.9" font-style="italic" fill="#111" transform="rotate(-48 594.15 275.0)">pccB</text>
<text x="604.01" y="275.0" font-size="8.9" font-style="italic" fill="#111" transform="rotate(-48 604.01 275.0)">mch</text>
<text x="613.88" y="275.0" font-size="8.9" font-style="italic" fill="#111" transform="rotate(-48 613.88 275.0)">mcd</text>
<text x="623.75" y="275.0" font-size="8.9" font-style="italic" fill="#111" transform="rotate(-48 623.75 275.0)">ecm</text>
<text x="633.62" y="275.0" font-size="8.9" font-style="italic" fill="#111" transform="rotate(-48 633.62 275.0)">ccr</text>
<text x="643.49" y="275.0" font-size="8.9" font-style="italic" fill="#111" transform="rotate(-48 643.49 275.0)">hbd</text>
<text x="653.36" y="275.0" font-size="8.9" font-style="italic" fill="#111" transform="rotate(-48 653.36 275.0)">phaA1</text>
<text x="663.23" y="275.0" font-size="8.9" font-style="italic" fill="#111" transform="rotate(-48 663.23 275.0)">phaB</text>
<text x="673.10" y="275.0" font-size="8.9" font-style="italic" fill="#111" transform="rotate(-48 673.10 275.0)">phaC</text>
<text x="682.97" y="275.0" font-size="8.9" font-style="italic" fill="#111" transform="rotate(-48 682.97 275.0)">phaZ</text>
<text transform="translate(81.30,288.79) scale(0.9615,1)" x="0" y="0" font-size="8.63" text-anchor="end" font-weight="normal" font-style="normal" fill="#222" >DH-1</text>
<text transform="translate(81.30,300.58) scale(0.9615,1)" x="0" y="0" font-size="8.63" text-anchor="end" font-weight="normal" font-style="normal" fill="#222" >YRD-M1</text>
<text transform="translate(81.30,312.37) scale(0.9615,1)" x="0" y="0" font-size="8.63" text-anchor="end" font-weight="normal" font-style="normal" fill="#222" >20Z</text>
<text transform="translate(81.30,324.16) scale(0.9615,1)" x="0" y="0" font-size="8.63" text-anchor="end" font-weight="normal" font-style="normal" fill="#222" >5GB1C</text>
<text transform="translate(81.30,335.95) scale(0.9615,1)" x="0" y="0" font-size="8.63" text-anchor="end" font-weight="normal" font-style="normal" fill="#222" >Bath</text>
<text transform="translate(81.30,347.74) scale(0.9615,1)" x="0" y="0" font-size="8.63" text-anchor="end" font-weight="normal" font-style="normal" fill="#222" >OB3b</text>
<text transform="translate(81.30,359.53) scale(0.9615,1)" x="0" y="0" font-size="8.63" text-anchor="end" font-weight="normal" font-style="normal" fill="#222" >C49</text>
<text transform="translate(81.30,371.32) scale(0.9615,1)" x="0" y="0" font-size="8.63" text-anchor="end" font-weight="normal" font-style="normal" fill="#222" ><tspan font-weight="bold" font-style="italic">M. sporium</tspan><tspan font-weight="bold"> 5</tspan></text>
<text transform="translate(81.30,383.11) scale(0.9615,1)" x="0" y="0" font-size="8.63" text-anchor="end" font-weight="normal" font-style="normal" fill="#222" >DSM 21852</text>
<text transform="translate(81.30,394.90) scale(0.9615,1)" x="0" y="0" font-size="8.63" text-anchor="end" font-weight="normal" font-style="normal" fill="#222" >H2</text>
<text transform="translate(81.30,406.69) scale(0.9615,1)" x="0" y="0" font-size="8.63" text-anchor="end" font-weight="normal" font-style="normal" fill="#222" >OBBP</text>
<text transform="translate(81.30,418.48) scale(0.9615,1)" x="0" y="0" font-size="8.63" text-anchor="end" font-weight="normal" font-style="normal" fill="#222" >SC2</text>
<line x1="11.80" y1="315.00" x2="11.80" y2="373.50" stroke="#555" stroke-width="0.9" />
<line x1="11.80" y1="315.00" x2="24.30" y2="315.00" stroke="#555" stroke-width="0.9" />
<line x1="24.30" y1="296.00" x2="24.30" y2="333.40" stroke="#555" stroke-width="0.9" />
<line x1="24.30" y1="333.40" x2="32.20" y2="333.40" stroke="#555" stroke-width="0.9" />
<line x1="24.30" y1="296.00" x2="30.40" y2="296.00" stroke="#555" stroke-width="0.9" />
<line x1="30.40" y1="286.30" x2="30.40" y2="307.10" stroke="#555" stroke-width="0.9" />
<line x1="30.40" y1="286.30" x2="36.10" y2="286.30" stroke="#555" stroke-width="0.9" />
<line x1="30.40" y1="307.10" x2="32.20" y2="307.10" stroke="#555" stroke-width="0.9" />
<line x1="32.20" y1="298.60" x2="32.20" y2="316.30" stroke="#555" stroke-width="0.9" />
<line x1="32.20" y1="298.60" x2="36.10" y2="298.60" stroke="#555" stroke-width="0.9" />
<line x1="32.20" y1="316.30" x2="37.40" y2="316.30" stroke="#555" stroke-width="0.9" />
<line x1="37.40" y1="310.20" x2="37.40" y2="322.00" stroke="#555" stroke-width="0.9" />
<line x1="37.40" y1="310.20" x2="39.00" y2="310.20" stroke="#555" stroke-width="0.9" />
<line x1="37.40" y1="322.00" x2="39.00" y2="322.00" stroke="#555" stroke-width="0.9" />
<line x1="11.80" y1="373.50" x2="24.50" y2="373.50" stroke="#555" stroke-width="0.9" />
<line x1="24.50" y1="353.50" x2="24.50" y2="398.00" stroke="#555" stroke-width="0.9" />
<line x1="24.50" y1="353.50" x2="26.70" y2="353.50" stroke="#555" stroke-width="0.9" />
<line x1="26.70" y1="345.40" x2="26.70" y2="362.60" stroke="#555" stroke-width="0.9" />
<line x1="26.70" y1="345.40" x2="30.80" y2="345.40" stroke="#555" stroke-width="0.9" />
<line x1="26.70" y1="362.60" x2="29.00" y2="362.60" stroke="#555" stroke-width="0.9" />
<line x1="29.00" y1="356.50" x2="29.00" y2="368.80" stroke="#555" stroke-width="0.9" />
<line x1="29.00" y1="356.50" x2="31.00" y2="356.50" stroke="#555" stroke-width="0.9" />
<line x1="29.00" y1="368.80" x2="31.00" y2="368.80" stroke="#555" stroke-width="0.9" />
<line x1="24.50" y1="386.00" x2="27.20" y2="386.00" stroke="#555" stroke-width="0.9" />
<line x1="27.20" y1="380.20" x2="27.20" y2="392.50" stroke="#555" stroke-width="0.9" />
<line x1="27.20" y1="380.20" x2="33.00" y2="380.20" stroke="#555" stroke-width="0.9" />
<line x1="27.20" y1="392.50" x2="31.60" y2="392.50" stroke="#555" stroke-width="0.9" />
<line x1="24.50" y1="398.00" x2="25.50" y2="398.00" stroke="#555" stroke-width="0.9" />
<line x1="25.50" y1="386.00" x2="25.50" y2="410.00" stroke="#555" stroke-width="0.9" />
<line x1="25.50" y1="410.00" x2="27.20" y2="410.00" stroke="#555" stroke-width="0.9" />
<line x1="27.20" y1="404.40" x2="27.20" y2="415.30" stroke="#555" stroke-width="0.9" />
<line x1="27.20" y1="404.40" x2="31.60" y2="404.40" stroke="#555" stroke-width="0.9" />
<line x1="27.20" y1="415.30" x2="31.60" y2="415.30" stroke="#555" stroke-width="0.9" />
<line x1="36.10" y1="286.20" x2="57.00" y2="286.20" stroke="#b5b5b5" stroke-width="0.7" stroke-dasharray="1.1,1.3"/>
<line x1="36.10" y1="297.99" x2="50.00" y2="297.99" stroke="#b5b5b5" stroke-width="0.7" stroke-dasharray="1.1,1.3"/>
<line x1="39.00" y1="309.78" x2="63.00" y2="309.78" stroke="#b5b5b5" stroke-width="0.7" stroke-dasharray="1.1,1.3"/>
<line x1="39.00" y1="321.57" x2="52.00" y2="321.57" stroke="#b5b5b5" stroke-width="0.7" stroke-dasharray="1.1,1.3"/>
<line x1="32.20" y1="333.36" x2="65.00" y2="333.36" stroke="#b5b5b5" stroke-width="0.7" stroke-dasharray="1.1,1.3"/>
<line x1="30.80" y1="345.15" x2="61.00" y2="345.15" stroke="#b5b5b5" stroke-width="0.7" stroke-dasharray="1.1,1.3"/>
<line x1="31.00" y1="356.94" x2="65.00" y2="356.94" stroke="#b5b5b5" stroke-width="0.7" stroke-dasharray="1.1,1.3"/>
<line x1="31.60" y1="392.31" x2="68.00" y2="392.31" stroke="#b5b5b5" stroke-width="0.7" stroke-dasharray="1.1,1.3"/>
<line x1="31.60" y1="404.10" x2="60.00" y2="404.10" stroke="#b5b5b5" stroke-width="0.7" stroke-dasharray="1.1,1.3"/>
<line x1="31.60" y1="415.89" x2="63.00" y2="415.89" stroke="#b5b5b5" stroke-width="0.7" stroke-dasharray="1.1,1.3"/>
<text transform="translate(40.00,442.29) scale(0.9615,1)" x="0" y="0" font-size="8.63" text-anchor="middle" font-weight="normal" font-style="normal" fill="#222" >Relative E-value</text>
<rect x="20.40" y="446.60" width="40.40" height="7.80" fill="url(#gLegend)" stroke="#333" stroke-width="0.9" />
<text transform="translate(22.50,463.39) scale(0.9615,1)" x="0" y="0" font-size="8.63" text-anchor="middle" font-weight="normal" font-style="normal" fill="#222" >0</text>
<text transform="translate(68.20,463.39) scale(0.9615,1)" x="0" y="0" font-size="8.63" text-anchor="end" font-weight="normal" font-style="normal" fill="#222" >100%</text>
<rect x="21.40" y="485.30" width="10.40" height="9.30" fill="#777777" stroke="#444" stroke-width="0.8" />
<text transform="translate(34.50,492.69) scale(0.9615,1)" x="0" y="0" font-size="8.63" text-anchor="start" font-weight="normal" font-style="normal" fill="#222" >Absent</text>
<rect x="85.60" y="485.30" width="10.00" height="9.30" fill="#c052aa" stroke="none" stroke-width="0" />
<text transform="translate(98.80,492.69) scale(0.9615,1)" x="0" y="0" font-size="8.63" text-anchor="start" font-weight="normal" font-style="normal" fill="#222" >Core</text>
<rect x="137.40" y="485.30" width="10.40" height="9.30" fill="#50688f" stroke="none" stroke-width="0" />
<text transform="translate(150.90,492.69) scale(0.9615,1)" x="0" y="0" font-size="8.63" text-anchor="start" font-weight="normal" font-style="normal" fill="#222" >Type II-specific</text>
</svg></body></html>
